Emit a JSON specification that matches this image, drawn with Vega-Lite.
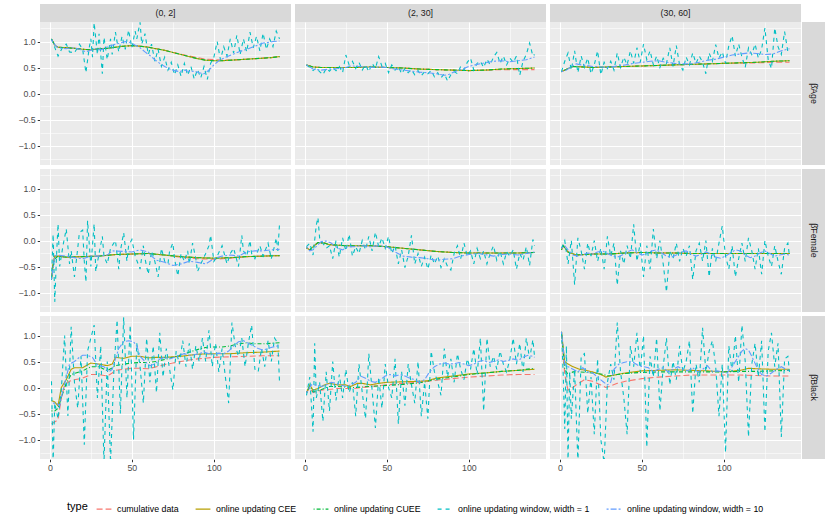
{
  "$schema": "https://vega.github.io/schema/vega-lite/v6.json",
  "padding": {"left": 5, "top": 4, "right": 5, "bottom": 2},
  "background": "#FFFFFF",
  "config": {
    "font": "Liberation Sans",
    "view": {"stroke": null},
    "axis": {
      "domain": false,
      "grid": true,
      "gridColor": "#FFFFFF",
      "tickColor": "#333333",
      "tickSize": 2.75,
      "tickWidth": 1,
      "labelColor": "#4D4D4D",
      "labelFontSize": 8.8,
      "labelPadding": 2,
      "labelOverlap": false,
      "title": null
    },
    "legend": {
      "orient": "bottom",
      "direction": "horizontal",
      "titleOrient": "left",
      "titleAnchor": "middle",
      "titleBaseline": "middle",
      "titleFontSize": 11,
      "titleFontWeight": "normal",
      "titleColor": "#000000",
      "labelFontSize": 8.8,
      "labelColor": "#000000",
      "symbolStrokeWidth": 1.1,
      "symbolSize": 220,
      "columnPadding": 14,
      "labelOffset": 5,
      "titlePadding": 8,
      "offset": 28,
      "layout": {"bottom": {"anchor": "middle"}}
    }
  },
  "spacing": 0,
  "vconcat": [
    {
      "spacing": 4,
      "hconcat": [
        {"data": {"values": [{"lab": "(0, 2]"}]}, "width": 251, "height": 18, "view": {"fill": "#D9D9D9", "stroke": null},
         "mark": {"type": "text", "fontSize": 8.8, "color": "#1A1A1A"}, "encoding": {"text": {"field": "lab"}}},
        {"data": {"values": [{"lab": "(2, 30]"}]}, "width": 251, "height": 18, "view": {"fill": "#D9D9D9", "stroke": null},
         "mark": {"type": "text", "fontSize": 8.8, "color": "#1A1A1A"}, "encoding": {"text": {"field": "lab"}}},
        {"data": {"values": [{"lab": "(30, 60]"}]}, "width": 251, "height": 18, "view": {"fill": "#D9D9D9", "stroke": null},
         "mark": {"type": "text", "fontSize": 8.8, "color": "#1A1A1A"}, "encoding": {"text": {"field": "lab"}}}
      ]
    },
    {
      "spacing": 1,
      "hconcat": [
        {
          "data": {"values": [
{"r":1,"c":1,"t":"a","x":1,"y":1.05},{"r":1,"c":1,"t":"a","x":3,"y":0.93},{"r":1,"c":1,"t":"a","x":5,"y":0.89},{"r":1,"c":1,"t":"a","x":10,"y":0.88},{"r":1,"c":1,"t":"a","x":15,"y":0.87},{"r":1,"c":1,"t":"a","x":20,"y":0.85},{"r":1,"c":1,"t":"a","x":25,"y":0.84},{"r":1,"c":1,"t":"a","x":30,"y":0.86},{"r":1,"c":1,"t":"a","x":35,"y":0.87},{"r":1,"c":1,"t":"a","x":40,"y":0.89},{"r":1,"c":1,"t":"a","x":45,"y":0.91},{"r":1,"c":1,"t":"a","x":50,"y":0.92},{"r":1,"c":1,"t":"a","x":55,"y":0.91},{"r":1,"c":1,"t":"a","x":60,"y":0.89},{"r":1,"c":1,"t":"a","x":65,"y":0.86},{"r":1,"c":1,"t":"a","x":70,"y":0.83},{"r":1,"c":1,"t":"a","x":75,"y":0.79},{"r":1,"c":1,"t":"a","x":80,"y":0.755},{"r":1,"c":1,"t":"a","x":85,"y":0.72},{"r":1,"c":1,"t":"a","x":90,"y":0.69},{"r":1,"c":1,"t":"a","x":95,"y":0.66},{"r":1,"c":1,"t":"a","x":100,"y":0.65},{"r":1,"c":1,"t":"a","x":105,"y":0.645},{"r":1,"c":1,"t":"a","x":110,"y":0.645},{"r":1,"c":1,"t":"a","x":115,"y":0.65},{"r":1,"c":1,"t":"a","x":120,"y":0.66},{"r":1,"c":1,"t":"a","x":125,"y":0.67},{"r":1,"c":1,"t":"a","x":130,"y":0.68},{"r":1,"c":1,"t":"a","x":135,"y":0.69},{"r":1,"c":1,"t":"a","x":140,"y":0.71},
{"r":1,"c":1,"t":"b","x":1,"y":1.05},{"r":1,"c":1,"t":"b","x":3,"y":0.93},{"r":1,"c":1,"t":"b","x":5,"y":0.89},{"r":1,"c":1,"t":"b","x":10,"y":0.88},{"r":1,"c":1,"t":"b","x":15,"y":0.87},{"r":1,"c":1,"t":"b","x":20,"y":0.85},{"r":1,"c":1,"t":"b","x":25,"y":0.84},{"r":1,"c":1,"t":"b","x":30,"y":0.86},{"r":1,"c":1,"t":"b","x":35,"y":0.87},{"r":1,"c":1,"t":"b","x":40,"y":0.89},{"r":1,"c":1,"t":"b","x":45,"y":0.91},{"r":1,"c":1,"t":"b","x":50,"y":0.92},{"r":1,"c":1,"t":"b","x":55,"y":0.91},{"r":1,"c":1,"t":"b","x":60,"y":0.89},{"r":1,"c":1,"t":"b","x":65,"y":0.86},{"r":1,"c":1,"t":"b","x":70,"y":0.83},{"r":1,"c":1,"t":"b","x":75,"y":0.79},{"r":1,"c":1,"t":"b","x":80,"y":0.75},{"r":1,"c":1,"t":"b","x":85,"y":0.71},{"r":1,"c":1,"t":"b","x":90,"y":0.67},{"r":1,"c":1,"t":"b","x":95,"y":0.64},{"r":1,"c":1,"t":"b","x":100,"y":0.63},{"r":1,"c":1,"t":"b","x":105,"y":0.63},{"r":1,"c":1,"t":"b","x":110,"y":0.64},{"r":1,"c":1,"t":"b","x":115,"y":0.65},{"r":1,"c":1,"t":"b","x":120,"y":0.66},{"r":1,"c":1,"t":"b","x":125,"y":0.67},{"r":1,"c":1,"t":"b","x":130,"y":0.68},{"r":1,"c":1,"t":"b","x":135,"y":0.69},{"r":1,"c":1,"t":"b","x":140,"y":0.71},
{"r":1,"c":1,"t":"c","x":1,"y":1.05},{"r":1,"c":1,"t":"c","x":3,"y":0.93},{"r":1,"c":1,"t":"c","x":5,"y":0.89},{"r":1,"c":1,"t":"c","x":10,"y":0.88},{"r":1,"c":1,"t":"c","x":15,"y":0.87},{"r":1,"c":1,"t":"c","x":20,"y":0.85},{"r":1,"c":1,"t":"c","x":25,"y":0.84},{"r":1,"c":1,"t":"c","x":30,"y":0.86},{"r":1,"c":1,"t":"c","x":35,"y":0.87},{"r":1,"c":1,"t":"c","x":40,"y":0.89},{"r":1,"c":1,"t":"c","x":45,"y":0.91},{"r":1,"c":1,"t":"c","x":50,"y":0.92},{"r":1,"c":1,"t":"c","x":55,"y":0.91},{"r":1,"c":1,"t":"c","x":60,"y":0.89},{"r":1,"c":1,"t":"c","x":65,"y":0.86},{"r":1,"c":1,"t":"c","x":70,"y":0.83},{"r":1,"c":1,"t":"c","x":75,"y":0.79},{"r":1,"c":1,"t":"c","x":80,"y":0.75},{"r":1,"c":1,"t":"c","x":85,"y":0.71},{"r":1,"c":1,"t":"c","x":90,"y":0.67},{"r":1,"c":1,"t":"c","x":95,"y":0.64},{"r":1,"c":1,"t":"c","x":100,"y":0.63},{"r":1,"c":1,"t":"c","x":105,"y":0.63},{"r":1,"c":1,"t":"c","x":110,"y":0.64},{"r":1,"c":1,"t":"c","x":115,"y":0.65},{"r":1,"c":1,"t":"c","x":120,"y":0.66},{"r":1,"c":1,"t":"c","x":125,"y":0.67},{"r":1,"c":1,"t":"c","x":130,"y":0.68},{"r":1,"c":1,"t":"c","x":135,"y":0.69},{"r":1,"c":1,"t":"c","x":140,"y":0.71},
{"r":1,"c":1,"t":"d","x":1,"y":1.05},{"r":1,"c":1,"t":"d","x":2,"y":0.97},{"r":1,"c":1,"t":"d","x":5,"y":0.72},{"r":1,"c":1,"t":"d","x":8,"y":0.9},{"r":1,"c":1,"t":"d","x":10,"y":0.95},{"r":1,"c":1,"t":"d","x":12,"y":0.8},{"r":1,"c":1,"t":"d","x":15,"y":0.78},{"r":1,"c":1,"t":"d","x":18,"y":0.95},{"r":1,"c":1,"t":"d","x":20,"y":0.85},{"r":1,"c":1,"t":"d","x":22,"y":0.4},{"r":1,"c":1,"t":"d","x":24,"y":0.88},{"r":1,"c":1,"t":"d","x":25,"y":1.05},{"r":1,"c":1,"t":"d","x":26,"y":0.7},{"r":1,"c":1,"t":"d","x":27,"y":1.36},{"r":1,"c":1,"t":"d","x":29,"y":0.75},{"r":1,"c":1,"t":"d","x":30,"y":1.15},{"r":1,"c":1,"t":"d","x":32,"y":0.38},{"r":1,"c":1,"t":"d","x":33,"y":1.08},{"r":1,"c":1,"t":"d","x":35,"y":0.65},{"r":1,"c":1,"t":"d","x":37,"y":1.05},{"r":1,"c":1,"t":"d","x":38,"y":0.75},{"r":1,"c":1,"t":"d","x":40,"y":1.18},{"r":1,"c":1,"t":"d","x":42,"y":0.8},{"r":1,"c":1,"t":"d","x":44,"y":1.1},{"r":1,"c":1,"t":"d","x":46,"y":0.85},{"r":1,"c":1,"t":"d","x":48,"y":1.22},{"r":1,"c":1,"t":"d","x":50,"y":0.88},{"r":1,"c":1,"t":"d","x":52,"y":1.2},{"r":1,"c":1,"t":"d","x":53,"y":1.05},{"r":1,"c":1,"t":"d","x":55,"y":1.37},{"r":1,"c":1,"t":"d","x":56,"y":0.95},{"r":1,"c":1,"t":"d","x":58,"y":1.15},{"r":1,"c":1,"t":"d","x":60,"y":0.75},{"r":1,"c":1,"t":"d","x":62,"y":0.95},{"r":1,"c":1,"t":"d","x":64,"y":0.62},{"r":1,"c":1,"t":"d","x":66,"y":0.85},{"r":1,"c":1,"t":"d","x":68,"y":0.52},{"r":1,"c":1,"t":"d","x":70,"y":0.7},{"r":1,"c":1,"t":"d","x":72,"y":0.45},{"r":1,"c":1,"t":"d","x":74,"y":0.6},{"r":1,"c":1,"t":"d","x":76,"y":0.36},{"r":1,"c":1,"t":"d","x":78,"y":0.55},{"r":1,"c":1,"t":"d","x":80,"y":0.33},{"r":1,"c":1,"t":"d","x":82,"y":0.58},{"r":1,"c":1,"t":"d","x":84,"y":0.35},{"r":1,"c":1,"t":"d","x":86,"y":0.52},{"r":1,"c":1,"t":"d","x":88,"y":0.28},{"r":1,"c":1,"t":"d","x":90,"y":0.46},{"r":1,"c":1,"t":"d","x":92,"y":0.3},{"r":1,"c":1,"t":"d","x":94,"y":0.52},{"r":1,"c":1,"t":"d","x":96,"y":0.27},{"r":1,"c":1,"t":"d","x":98,"y":0.58},{"r":1,"c":1,"t":"d","x":100,"y":0.7},{"r":1,"c":1,"t":"d","x":102,"y":1.0},{"r":1,"c":1,"t":"d","x":104,"y":0.65},{"r":1,"c":1,"t":"d","x":106,"y":0.9},{"r":1,"c":1,"t":"d","x":108,"y":0.72},{"r":1,"c":1,"t":"d","x":110,"y":1.05},{"r":1,"c":1,"t":"d","x":112,"y":0.78},{"r":1,"c":1,"t":"d","x":114,"y":1.12},{"r":1,"c":1,"t":"d","x":116,"y":0.75},{"r":1,"c":1,"t":"d","x":118,"y":1.05},{"r":1,"c":1,"t":"d","x":120,"y":0.8},{"r":1,"c":1,"t":"d","x":122,"y":1.18},{"r":1,"c":1,"t":"d","x":124,"y":0.88},{"r":1,"c":1,"t":"d","x":126,"y":1.1},{"r":1,"c":1,"t":"d","x":128,"y":0.82},{"r":1,"c":1,"t":"d","x":130,"y":1.16},{"r":1,"c":1,"t":"d","x":132,"y":0.85},{"r":1,"c":1,"t":"d","x":134,"y":1.05},{"r":1,"c":1,"t":"d","x":136,"y":0.9},{"r":1,"c":1,"t":"d","x":138,"y":1.2},{"r":1,"c":1,"t":"d","x":140,"y":1.05},
{"r":1,"c":1,"t":"e","x":1,"y":1.03},{"r":1,"c":1,"t":"e","x":4,"y":0.9},{"r":1,"c":1,"t":"e","x":7,"y":0.87},{"r":1,"c":1,"t":"e","x":10,"y":0.86},{"r":1,"c":1,"t":"e","x":13,"y":0.88},{"r":1,"c":1,"t":"e","x":16,"y":0.87},{"r":1,"c":1,"t":"e","x":19,"y":0.84},{"r":1,"c":1,"t":"e","x":22,"y":0.8},{"r":1,"c":1,"t":"e","x":25,"y":0.83},{"r":1,"c":1,"t":"e","x":28,"y":0.86},{"r":1,"c":1,"t":"e","x":31,"y":0.84},{"r":1,"c":1,"t":"e","x":34,"y":0.88},{"r":1,"c":1,"t":"e","x":37,"y":0.92},{"r":1,"c":1,"t":"e","x":40,"y":0.95},{"r":1,"c":1,"t":"e","x":43,"y":0.97},{"r":1,"c":1,"t":"e","x":46,"y":1.0},{"r":1,"c":1,"t":"e","x":49,"y":0.98},{"r":1,"c":1,"t":"e","x":52,"y":0.93},{"r":1,"c":1,"t":"e","x":55,"y":0.88},{"r":1,"c":1,"t":"e","x":58,"y":0.8},{"r":1,"c":1,"t":"e","x":61,"y":0.73},{"r":1,"c":1,"t":"e","x":64,"y":0.65},{"r":1,"c":1,"t":"e","x":67,"y":0.58},{"r":1,"c":1,"t":"e","x":70,"y":0.52},{"r":1,"c":1,"t":"e","x":73,"y":0.47},{"r":1,"c":1,"t":"e","x":76,"y":0.44},{"r":1,"c":1,"t":"e","x":79,"y":0.42},{"r":1,"c":1,"t":"e","x":82,"y":0.45},{"r":1,"c":1,"t":"e","x":85,"y":0.42},{"r":1,"c":1,"t":"e","x":88,"y":0.43},{"r":1,"c":1,"t":"e","x":91,"y":0.4},{"r":1,"c":1,"t":"e","x":94,"y":0.38},{"r":1,"c":1,"t":"e","x":97,"y":0.45},{"r":1,"c":1,"t":"e","x":100,"y":0.55},{"r":1,"c":1,"t":"e","x":103,"y":0.63},{"r":1,"c":1,"t":"e","x":106,"y":0.68},{"r":1,"c":1,"t":"e","x":109,"y":0.72},{"r":1,"c":1,"t":"e","x":112,"y":0.76},{"r":1,"c":1,"t":"e","x":115,"y":0.8},{"r":1,"c":1,"t":"e","x":118,"y":0.83},{"r":1,"c":1,"t":"e","x":121,"y":0.86},{"r":1,"c":1,"t":"e","x":124,"y":0.9},{"r":1,"c":1,"t":"e","x":127,"y":0.93},{"r":1,"c":1,"t":"e","x":130,"y":0.97},{"r":1,"c":1,"t":"e","x":133,"y":0.98},{"r":1,"c":1,"t":"e","x":136,"y":1.0},{"r":1,"c":1,"t":"e","x":140,"y":1.01},
{"r":1,"c":2,"t":"a","x":1,"y":0.55},{"r":1,"c":2,"t":"a","x":5,"y":0.51},{"r":1,"c":2,"t":"a","x":10,"y":0.5},{"r":1,"c":2,"t":"a","x":20,"y":0.5},{"r":1,"c":2,"t":"a","x":30,"y":0.5},{"r":1,"c":2,"t":"a","x":40,"y":0.51},{"r":1,"c":2,"t":"a","x":50,"y":0.5},{"r":1,"c":2,"t":"a","x":60,"y":0.49},{"r":1,"c":2,"t":"a","x":70,"y":0.47},{"r":1,"c":2,"t":"a","x":80,"y":0.46},{"r":1,"c":2,"t":"a","x":90,"y":0.45},{"r":1,"c":2,"t":"a","x":100,"y":0.44},{"r":1,"c":2,"t":"a","x":110,"y":0.45},{"r":1,"c":2,"t":"a","x":120,"y":0.46},{"r":1,"c":2,"t":"a","x":130,"y":0.46},{"r":1,"c":2,"t":"a","x":140,"y":0.46},
{"r":1,"c":2,"t":"b","x":1,"y":0.55},{"r":1,"c":2,"t":"b","x":5,"y":0.51},{"r":1,"c":2,"t":"b","x":10,"y":0.5},{"r":1,"c":2,"t":"b","x":20,"y":0.5},{"r":1,"c":2,"t":"b","x":30,"y":0.5},{"r":1,"c":2,"t":"b","x":40,"y":0.51},{"r":1,"c":2,"t":"b","x":50,"y":0.5},{"r":1,"c":2,"t":"b","x":60,"y":0.49},{"r":1,"c":2,"t":"b","x":70,"y":0.47},{"r":1,"c":2,"t":"b","x":80,"y":0.46},{"r":1,"c":2,"t":"b","x":90,"y":0.45},{"r":1,"c":2,"t":"b","x":100,"y":0.44},{"r":1,"c":2,"t":"b","x":110,"y":0.45},{"r":1,"c":2,"t":"b","x":120,"y":0.47},{"r":1,"c":2,"t":"b","x":130,"y":0.48},{"r":1,"c":2,"t":"b","x":140,"y":0.49},
{"r":1,"c":2,"t":"c","x":1,"y":0.55},{"r":1,"c":2,"t":"c","x":5,"y":0.51},{"r":1,"c":2,"t":"c","x":10,"y":0.5},{"r":1,"c":2,"t":"c","x":20,"y":0.5},{"r":1,"c":2,"t":"c","x":30,"y":0.5},{"r":1,"c":2,"t":"c","x":40,"y":0.51},{"r":1,"c":2,"t":"c","x":50,"y":0.5},{"r":1,"c":2,"t":"c","x":60,"y":0.49},{"r":1,"c":2,"t":"c","x":70,"y":0.47},{"r":1,"c":2,"t":"c","x":80,"y":0.46},{"r":1,"c":2,"t":"c","x":90,"y":0.45},{"r":1,"c":2,"t":"c","x":100,"y":0.44},{"r":1,"c":2,"t":"c","x":110,"y":0.45},{"r":1,"c":2,"t":"c","x":120,"y":0.47},{"r":1,"c":2,"t":"c","x":130,"y":0.48},{"r":1,"c":2,"t":"c","x":140,"y":0.49},
{"r":1,"c":2,"t":"d","x":1,"y":0.55},{"r":1,"c":2,"t":"d","x":3,"y":0.5},{"r":1,"c":2,"t":"d","x":5,"y":0.44},{"r":1,"c":2,"t":"d","x":7,"y":0.49},{"r":1,"c":2,"t":"d","x":9,"y":0.42},{"r":1,"c":2,"t":"d","x":11,"y":0.36},{"r":1,"c":2,"t":"d","x":13,"y":0.48},{"r":1,"c":2,"t":"d","x":15,"y":0.43},{"r":1,"c":2,"t":"d","x":17,"y":0.5},{"r":1,"c":2,"t":"d","x":19,"y":0.44},{"r":1,"c":2,"t":"d","x":21,"y":0.52},{"r":1,"c":2,"t":"d","x":23,"y":0.4},{"r":1,"c":2,"t":"d","x":25,"y":0.74},{"r":1,"c":2,"t":"d","x":27,"y":0.55},{"r":1,"c":2,"t":"d","x":29,"y":0.62},{"r":1,"c":2,"t":"d","x":31,"y":0.48},{"r":1,"c":2,"t":"d","x":33,"y":0.6},{"r":1,"c":2,"t":"d","x":35,"y":0.45},{"r":1,"c":2,"t":"d","x":37,"y":0.55},{"r":1,"c":2,"t":"d","x":39,"y":0.42},{"r":1,"c":2,"t":"d","x":41,"y":0.58},{"r":1,"c":2,"t":"d","x":43,"y":0.48},{"r":1,"c":2,"t":"d","x":45,"y":0.71},{"r":1,"c":2,"t":"d","x":47,"y":0.52},{"r":1,"c":2,"t":"d","x":49,"y":0.58},{"r":1,"c":2,"t":"d","x":51,"y":0.4},{"r":1,"c":2,"t":"d","x":53,"y":0.55},{"r":1,"c":2,"t":"d","x":55,"y":0.45},{"r":1,"c":2,"t":"d","x":57,"y":0.52},{"r":1,"c":2,"t":"d","x":59,"y":0.38},{"r":1,"c":2,"t":"d","x":61,"y":0.48},{"r":1,"c":2,"t":"d","x":63,"y":0.4},{"r":1,"c":2,"t":"d","x":65,"y":0.46},{"r":1,"c":2,"t":"d","x":67,"y":0.36},{"r":1,"c":2,"t":"d","x":69,"y":0.44},{"r":1,"c":2,"t":"d","x":71,"y":0.34},{"r":1,"c":2,"t":"d","x":73,"y":0.42},{"r":1,"c":2,"t":"d","x":75,"y":0.38},{"r":1,"c":2,"t":"d","x":77,"y":0.44},{"r":1,"c":2,"t":"d","x":79,"y":0.32},{"r":1,"c":2,"t":"d","x":81,"y":0.4},{"r":1,"c":2,"t":"d","x":83,"y":0.3},{"r":1,"c":2,"t":"d","x":85,"y":0.38},{"r":1,"c":2,"t":"d","x":87,"y":0.24},{"r":1,"c":2,"t":"d","x":89,"y":0.36},{"r":1,"c":2,"t":"d","x":91,"y":0.42},{"r":1,"c":2,"t":"d","x":93,"y":0.38},{"r":1,"c":2,"t":"d","x":95,"y":0.52},{"r":1,"c":2,"t":"d","x":97,"y":0.45},{"r":1,"c":2,"t":"d","x":99,"y":0.6},{"r":1,"c":2,"t":"d","x":101,"y":0.68},{"r":1,"c":2,"t":"d","x":103,"y":0.45},{"r":1,"c":2,"t":"d","x":105,"y":0.58},{"r":1,"c":2,"t":"d","x":107,"y":0.62},{"r":1,"c":2,"t":"d","x":109,"y":0.5},{"r":1,"c":2,"t":"d","x":111,"y":0.66},{"r":1,"c":2,"t":"d","x":113,"y":0.55},{"r":1,"c":2,"t":"d","x":115,"y":0.7},{"r":1,"c":2,"t":"d","x":117,"y":0.79},{"r":1,"c":2,"t":"d","x":119,"y":0.58},{"r":1,"c":2,"t":"d","x":121,"y":0.72},{"r":1,"c":2,"t":"d","x":123,"y":0.55},{"r":1,"c":2,"t":"d","x":125,"y":0.68},{"r":1,"c":2,"t":"d","x":127,"y":0.6},{"r":1,"c":2,"t":"d","x":129,"y":0.72},{"r":1,"c":2,"t":"d","x":131,"y":0.35},{"r":1,"c":2,"t":"d","x":133,"y":0.62},{"r":1,"c":2,"t":"d","x":135,"y":0.75},{"r":1,"c":2,"t":"d","x":137,"y":0.97},{"r":1,"c":2,"t":"d","x":139,"y":0.72},{"r":1,"c":2,"t":"d","x":140,"y":0.75},
{"r":1,"c":2,"t":"e","x":1,"y":0.55},{"r":1,"c":2,"t":"e","x":5,"y":0.47},{"r":1,"c":2,"t":"e","x":10,"y":0.45},{"r":1,"c":2,"t":"e","x":15,"y":0.47},{"r":1,"c":2,"t":"e","x":20,"y":0.48},{"r":1,"c":2,"t":"e","x":25,"y":0.5},{"r":1,"c":2,"t":"e","x":28,"y":0.53},{"r":1,"c":2,"t":"e","x":33,"y":0.52},{"r":1,"c":2,"t":"e","x":40,"y":0.5},{"r":1,"c":2,"t":"e","x":45,"y":0.51},{"r":1,"c":2,"t":"e","x":50,"y":0.5},{"r":1,"c":2,"t":"e","x":55,"y":0.47},{"r":1,"c":2,"t":"e","x":60,"y":0.45},{"r":1,"c":2,"t":"e","x":65,"y":0.43},{"r":1,"c":2,"t":"e","x":70,"y":0.41},{"r":1,"c":2,"t":"e","x":75,"y":0.4},{"r":1,"c":2,"t":"e","x":80,"y":0.38},{"r":1,"c":2,"t":"e","x":85,"y":0.35},{"r":1,"c":2,"t":"e","x":88,"y":0.37},{"r":1,"c":2,"t":"e","x":92,"y":0.43},{"r":1,"c":2,"t":"e","x":97,"y":0.48},{"r":1,"c":2,"t":"e","x":100,"y":0.52},{"r":1,"c":2,"t":"e","x":105,"y":0.56},{"r":1,"c":2,"t":"e","x":110,"y":0.59},{"r":1,"c":2,"t":"e","x":115,"y":0.62},{"r":1,"c":2,"t":"e","x":120,"y":0.63},{"r":1,"c":2,"t":"e","x":125,"y":0.61},{"r":1,"c":2,"t":"e","x":130,"y":0.63},{"r":1,"c":2,"t":"e","x":135,"y":0.65},{"r":1,"c":2,"t":"e","x":140,"y":0.7},
{"r":1,"c":3,"t":"a","x":1,"y":0.42},{"r":1,"c":3,"t":"a","x":5,"y":0.48},{"r":1,"c":3,"t":"a","x":8,"y":0.52},{"r":1,"c":3,"t":"a","x":15,"y":0.51},{"r":1,"c":3,"t":"a","x":20,"y":0.5},{"r":1,"c":3,"t":"a","x":30,"y":0.51},{"r":1,"c":3,"t":"a","x":40,"y":0.52},{"r":1,"c":3,"t":"a","x":50,"y":0.53},{"r":1,"c":3,"t":"a","x":60,"y":0.54},{"r":1,"c":3,"t":"a","x":70,"y":0.55},{"r":1,"c":3,"t":"a","x":80,"y":0.56},{"r":1,"c":3,"t":"a","x":90,"y":0.57},{"r":1,"c":3,"t":"a","x":100,"y":0.58},{"r":1,"c":3,"t":"a","x":110,"y":0.585},{"r":1,"c":3,"t":"a","x":120,"y":0.59},{"r":1,"c":3,"t":"a","x":130,"y":0.6},{"r":1,"c":3,"t":"a","x":140,"y":0.6},
{"r":1,"c":3,"t":"b","x":1,"y":0.42},{"r":1,"c":3,"t":"b","x":5,"y":0.48},{"r":1,"c":3,"t":"b","x":8,"y":0.52},{"r":1,"c":3,"t":"b","x":15,"y":0.51},{"r":1,"c":3,"t":"b","x":20,"y":0.5},{"r":1,"c":3,"t":"b","x":30,"y":0.51},{"r":1,"c":3,"t":"b","x":40,"y":0.52},{"r":1,"c":3,"t":"b","x":50,"y":0.53},{"r":1,"c":3,"t":"b","x":60,"y":0.54},{"r":1,"c":3,"t":"b","x":70,"y":0.55},{"r":1,"c":3,"t":"b","x":80,"y":0.56},{"r":1,"c":3,"t":"b","x":90,"y":0.57},{"r":1,"c":3,"t":"b","x":100,"y":0.58},{"r":1,"c":3,"t":"b","x":110,"y":0.59},{"r":1,"c":3,"t":"b","x":120,"y":0.6},{"r":1,"c":3,"t":"b","x":130,"y":0.62},{"r":1,"c":3,"t":"b","x":140,"y":0.63},
{"r":1,"c":3,"t":"c","x":1,"y":0.42},{"r":1,"c":3,"t":"c","x":5,"y":0.48},{"r":1,"c":3,"t":"c","x":8,"y":0.52},{"r":1,"c":3,"t":"c","x":15,"y":0.51},{"r":1,"c":3,"t":"c","x":20,"y":0.5},{"r":1,"c":3,"t":"c","x":30,"y":0.51},{"r":1,"c":3,"t":"c","x":40,"y":0.52},{"r":1,"c":3,"t":"c","x":50,"y":0.53},{"r":1,"c":3,"t":"c","x":60,"y":0.54},{"r":1,"c":3,"t":"c","x":70,"y":0.55},{"r":1,"c":3,"t":"c","x":80,"y":0.56},{"r":1,"c":3,"t":"c","x":90,"y":0.57},{"r":1,"c":3,"t":"c","x":100,"y":0.58},{"r":1,"c":3,"t":"c","x":110,"y":0.59},{"r":1,"c":3,"t":"c","x":120,"y":0.6},{"r":1,"c":3,"t":"c","x":130,"y":0.62},{"r":1,"c":3,"t":"c","x":140,"y":0.63},
{"r":1,"c":3,"t":"d","x":1,"y":0.42},{"r":1,"c":3,"t":"d","x":3,"y":0.62},{"r":1,"c":3,"t":"d","x":5,"y":0.78},{"r":1,"c":3,"t":"d","x":7,"y":0.45},{"r":1,"c":3,"t":"d","x":9,"y":0.82},{"r":1,"c":3,"t":"d","x":11,"y":0.4},{"r":1,"c":3,"t":"d","x":13,"y":0.72},{"r":1,"c":3,"t":"d","x":15,"y":0.5},{"r":1,"c":3,"t":"d","x":17,"y":0.68},{"r":1,"c":3,"t":"d","x":19,"y":0.38},{"r":1,"c":3,"t":"d","x":21,"y":0.55},{"r":1,"c":3,"t":"d","x":23,"y":0.82},{"r":1,"c":3,"t":"d","x":25,"y":0.36},{"r":1,"c":3,"t":"d","x":27,"y":0.6},{"r":1,"c":3,"t":"d","x":29,"y":0.48},{"r":1,"c":3,"t":"d","x":31,"y":0.62},{"r":1,"c":3,"t":"d","x":33,"y":0.45},{"r":1,"c":3,"t":"d","x":35,"y":0.78},{"r":1,"c":3,"t":"d","x":37,"y":0.5},{"r":1,"c":3,"t":"d","x":39,"y":0.7},{"r":1,"c":3,"t":"d","x":41,"y":0.55},{"r":1,"c":3,"t":"d","x":43,"y":0.82},{"r":1,"c":3,"t":"d","x":45,"y":0.58},{"r":1,"c":3,"t":"d","x":47,"y":0.88},{"r":1,"c":3,"t":"d","x":49,"y":0.6},{"r":1,"c":3,"t":"d","x":51,"y":0.95},{"r":1,"c":3,"t":"d","x":53,"y":0.65},{"r":1,"c":3,"t":"d","x":55,"y":0.82},{"r":1,"c":3,"t":"d","x":57,"y":0.55},{"r":1,"c":3,"t":"d","x":59,"y":0.72},{"r":1,"c":3,"t":"d","x":61,"y":0.5},{"r":1,"c":3,"t":"d","x":63,"y":0.68},{"r":1,"c":3,"t":"d","x":65,"y":0.58},{"r":1,"c":3,"t":"d","x":67,"y":0.88},{"r":1,"c":3,"t":"d","x":69,"y":0.52},{"r":1,"c":3,"t":"d","x":71,"y":0.92},{"r":1,"c":3,"t":"d","x":73,"y":0.55},{"r":1,"c":3,"t":"d","x":75,"y":0.45},{"r":1,"c":3,"t":"d","x":77,"y":0.7},{"r":1,"c":3,"t":"d","x":79,"y":0.55},{"r":1,"c":3,"t":"d","x":81,"y":0.78},{"r":1,"c":3,"t":"d","x":83,"y":0.58},{"r":1,"c":3,"t":"d","x":85,"y":0.72},{"r":1,"c":3,"t":"d","x":87,"y":0.6},{"r":1,"c":3,"t":"d","x":89,"y":0.38},{"r":1,"c":3,"t":"d","x":91,"y":0.78},{"r":1,"c":3,"t":"d","x":93,"y":0.62},{"r":1,"c":3,"t":"d","x":95,"y":0.94},{"r":1,"c":3,"t":"d","x":97,"y":0.68},{"r":1,"c":3,"t":"d","x":99,"y":0.8},{"r":1,"c":3,"t":"d","x":101,"y":0.58},{"r":1,"c":3,"t":"d","x":103,"y":0.92},{"r":1,"c":3,"t":"d","x":105,"y":1.11},{"r":1,"c":3,"t":"d","x":107,"y":0.72},{"r":1,"c":3,"t":"d","x":109,"y":0.95},{"r":1,"c":3,"t":"d","x":111,"y":0.7},{"r":1,"c":3,"t":"d","x":113,"y":0.5},{"r":1,"c":3,"t":"d","x":115,"y":0.88},{"r":1,"c":3,"t":"d","x":117,"y":0.75},{"r":1,"c":3,"t":"d","x":119,"y":0.95},{"r":1,"c":3,"t":"d","x":121,"y":0.68},{"r":1,"c":3,"t":"d","x":123,"y":0.85},{"r":1,"c":3,"t":"d","x":125,"y":1.26},{"r":1,"c":3,"t":"d","x":127,"y":0.65},{"r":1,"c":3,"t":"d","x":129,"y":0.48},{"r":1,"c":3,"t":"d","x":131,"y":1.26},{"r":1,"c":3,"t":"d","x":133,"y":0.9},{"r":1,"c":3,"t":"d","x":135,"y":0.75},{"r":1,"c":3,"t":"d","x":137,"y":1.19},{"r":1,"c":3,"t":"d","x":139,"y":0.8},{"r":1,"c":3,"t":"d","x":140,"y":0.82},
{"r":1,"c":3,"t":"e","x":1,"y":0.42},{"r":1,"c":3,"t":"e","x":4,"y":0.45},{"r":1,"c":3,"t":"e","x":7,"y":0.52},{"r":1,"c":3,"t":"e","x":10,"y":0.57},{"r":1,"c":3,"t":"e","x":13,"y":0.55},{"r":1,"c":3,"t":"e","x":16,"y":0.54},{"r":1,"c":3,"t":"e","x":20,"y":0.52},{"r":1,"c":3,"t":"e","x":25,"y":0.51},{"r":1,"c":3,"t":"e","x":30,"y":0.5},{"r":1,"c":3,"t":"e","x":35,"y":0.53},{"r":1,"c":3,"t":"e","x":40,"y":0.55},{"r":1,"c":3,"t":"e","x":45,"y":0.58},{"r":1,"c":3,"t":"e","x":50,"y":0.6},{"r":1,"c":3,"t":"e","x":55,"y":0.62},{"r":1,"c":3,"t":"e","x":60,"y":0.63},{"r":1,"c":3,"t":"e","x":65,"y":0.6},{"r":1,"c":3,"t":"e","x":70,"y":0.58},{"r":1,"c":3,"t":"e","x":75,"y":0.57},{"r":1,"c":3,"t":"e","x":80,"y":0.57},{"r":1,"c":3,"t":"e","x":85,"y":0.6},{"r":1,"c":3,"t":"e","x":90,"y":0.64},{"r":1,"c":3,"t":"e","x":95,"y":0.66},{"r":1,"c":3,"t":"e","x":100,"y":0.7},{"r":1,"c":3,"t":"e","x":105,"y":0.74},{"r":1,"c":3,"t":"e","x":110,"y":0.76},{"r":1,"c":3,"t":"e","x":115,"y":0.78},{"r":1,"c":3,"t":"e","x":120,"y":0.77},{"r":1,"c":3,"t":"e","x":125,"y":0.75},{"r":1,"c":3,"t":"e","x":130,"y":0.76},{"r":1,"c":3,"t":"e","x":135,"y":0.82},{"r":1,"c":3,"t":"e","x":140,"y":0.86},
{"r":2,"c":1,"t":"a","x":1,"y":-0.75},{"r":2,"c":1,"t":"a","x":2,"y":-0.45},{"r":2,"c":1,"t":"a","x":3,"y":-0.3},{"r":2,"c":1,"t":"a","x":5,"y":-0.3},{"r":2,"c":1,"t":"a","x":10,"y":-0.32},{"r":2,"c":1,"t":"a","x":20,"y":-0.31},{"r":2,"c":1,"t":"a","x":30,"y":-0.3},{"r":2,"c":1,"t":"a","x":40,"y":-0.27},{"r":2,"c":1,"t":"a","x":50,"y":-0.26},{"r":2,"c":1,"t":"a","x":60,"y":-0.25},{"r":2,"c":1,"t":"a","x":70,"y":-0.28},{"r":2,"c":1,"t":"a","x":80,"y":-0.32},{"r":2,"c":1,"t":"a","x":90,"y":-0.35},{"r":2,"c":1,"t":"a","x":100,"y":-0.36},{"r":2,"c":1,"t":"a","x":110,"y":-0.34},{"r":2,"c":1,"t":"a","x":120,"y":-0.31},{"r":2,"c":1,"t":"a","x":130,"y":-0.3},{"r":2,"c":1,"t":"a","x":140,"y":-0.29},
{"r":2,"c":1,"t":"b","x":1,"y":-0.75},{"r":2,"c":1,"t":"b","x":2,"y":-0.45},{"r":2,"c":1,"t":"b","x":3,"y":-0.3},{"r":2,"c":1,"t":"b","x":5,"y":-0.3},{"r":2,"c":1,"t":"b","x":10,"y":-0.32},{"r":2,"c":1,"t":"b","x":20,"y":-0.31},{"r":2,"c":1,"t":"b","x":30,"y":-0.3},{"r":2,"c":1,"t":"b","x":40,"y":-0.27},{"r":2,"c":1,"t":"b","x":50,"y":-0.26},{"r":2,"c":1,"t":"b","x":60,"y":-0.25},{"r":2,"c":1,"t":"b","x":70,"y":-0.28},{"r":2,"c":1,"t":"b","x":80,"y":-0.31},{"r":2,"c":1,"t":"b","x":90,"y":-0.33},{"r":2,"c":1,"t":"b","x":100,"y":-0.34},{"r":2,"c":1,"t":"b","x":110,"y":-0.33},{"r":2,"c":1,"t":"b","x":120,"y":-0.31},{"r":2,"c":1,"t":"b","x":130,"y":-0.3},{"r":2,"c":1,"t":"b","x":140,"y":-0.29},
{"r":2,"c":1,"t":"c","x":1,"y":-0.75},{"r":2,"c":1,"t":"c","x":2,"y":-0.48},{"r":2,"c":1,"t":"c","x":3,"y":-0.35},{"r":2,"c":1,"t":"c","x":5,"y":-0.3},{"r":2,"c":1,"t":"c","x":10,"y":-0.32},{"r":2,"c":1,"t":"c","x":20,"y":-0.31},{"r":2,"c":1,"t":"c","x":30,"y":-0.3},{"r":2,"c":1,"t":"c","x":40,"y":-0.27},{"r":2,"c":1,"t":"c","x":50,"y":-0.26},{"r":2,"c":1,"t":"c","x":60,"y":-0.25},{"r":2,"c":1,"t":"c","x":70,"y":-0.28},{"r":2,"c":1,"t":"c","x":80,"y":-0.31},{"r":2,"c":1,"t":"c","x":90,"y":-0.33},{"r":2,"c":1,"t":"c","x":100,"y":-0.34},{"r":2,"c":1,"t":"c","x":110,"y":-0.33},{"r":2,"c":1,"t":"c","x":120,"y":-0.31},{"r":2,"c":1,"t":"c","x":130,"y":-0.3},{"r":2,"c":1,"t":"c","x":140,"y":-0.29},
{"r":2,"c":1,"t":"d","x":1,"y":-0.75},{"r":2,"c":1,"t":"d","x":2,"y":0.12},{"r":2,"c":1,"t":"d","x":3,"y":-1.18},{"r":2,"c":1,"t":"d","x":4,"y":-0.35},{"r":2,"c":1,"t":"d","x":5,"y":0.32},{"r":2,"c":1,"t":"d","x":6,"y":-0.5},{"r":2,"c":1,"t":"d","x":8,"y":-0.1},{"r":2,"c":1,"t":"d","x":10,"y":0.22},{"r":2,"c":1,"t":"d","x":12,"y":-0.45},{"r":2,"c":1,"t":"d","x":13,"y":-0.2},{"r":2,"c":1,"t":"d","x":15,"y":-0.7},{"r":2,"c":1,"t":"d","x":17,"y":-0.15},{"r":2,"c":1,"t":"d","x":18,"y":0.15},{"r":2,"c":1,"t":"d","x":20,"y":0.2},{"r":2,"c":1,"t":"d","x":21,"y":-0.4},{"r":2,"c":1,"t":"d","x":22,"y":-0.8},{"r":2,"c":1,"t":"d","x":23,"y":0.38},{"r":2,"c":1,"t":"d","x":25,"y":-0.5},{"r":2,"c":1,"t":"d","x":27,"y":0.32},{"r":2,"c":1,"t":"d","x":28,"y":-0.6},{"r":2,"c":1,"t":"d","x":30,"y":-0.25},{"r":2,"c":1,"t":"d","x":32,"y":0.08},{"r":2,"c":1,"t":"d","x":33,"y":-0.3},{"r":2,"c":1,"t":"d","x":35,"y":-0.45},{"r":2,"c":1,"t":"d","x":37,"y":-0.15},{"r":2,"c":1,"t":"d","x":40,"y":0.0},{"r":2,"c":1,"t":"d","x":42,"y":-0.55},{"r":2,"c":1,"t":"d","x":43,"y":-0.2},{"r":2,"c":1,"t":"d","x":45,"y":0.15},{"r":2,"c":1,"t":"d","x":47,"y":-0.4},{"r":2,"c":1,"t":"d","x":48,"y":-0.1},{"r":2,"c":1,"t":"d","x":50,"y":0.02},{"r":2,"c":1,"t":"d","x":52,"y":-0.3},{"r":2,"c":1,"t":"d","x":55,"y":-0.55},{"r":2,"c":1,"t":"d","x":57,"y":-0.1},{"r":2,"c":1,"t":"d","x":58,"y":-0.35},{"r":2,"c":1,"t":"d","x":60,"y":-0.65},{"r":2,"c":1,"t":"d","x":62,"y":-0.2},{"r":2,"c":1,"t":"d","x":64,"y":-0.4},{"r":2,"c":1,"t":"d","x":66,"y":-0.7},{"r":2,"c":1,"t":"d","x":68,"y":-0.15},{"r":2,"c":1,"t":"d","x":70,"y":-0.4},{"r":2,"c":1,"t":"d","x":72,"y":-0.45},{"r":2,"c":1,"t":"d","x":73,"y":-0.2},{"r":2,"c":1,"t":"d","x":75,"y":-0.05},{"r":2,"c":1,"t":"d","x":76,"y":-0.35},{"r":2,"c":1,"t":"d","x":78,"y":-0.68},{"r":2,"c":1,"t":"d","x":80,"y":-0.25},{"r":2,"c":1,"t":"d","x":82,"y":-0.4},{"r":2,"c":1,"t":"d","x":84,"y":-0.2},{"r":2,"c":1,"t":"d","x":85,"y":-0.45},{"r":2,"c":1,"t":"d","x":87,"y":-0.05},{"r":2,"c":1,"t":"d","x":89,"y":-0.35},{"r":2,"c":1,"t":"d","x":90,"y":-0.6},{"r":2,"c":1,"t":"d","x":92,"y":-0.45},{"r":2,"c":1,"t":"d","x":95,"y":-0.25},{"r":2,"c":1,"t":"d","x":97,"y":-0.1},{"r":2,"c":1,"t":"d","x":98,"y":0.1},{"r":2,"c":1,"t":"d","x":100,"y":-0.4},{"r":2,"c":1,"t":"d","x":102,"y":-0.3},{"r":2,"c":1,"t":"d","x":105,"y":-0.1},{"r":2,"c":1,"t":"d","x":108,"y":-0.45},{"r":2,"c":1,"t":"d","x":110,"y":-0.25},{"r":2,"c":1,"t":"d","x":112,"y":-0.15},{"r":2,"c":1,"t":"d","x":115,"y":-0.5},{"r":2,"c":1,"t":"d","x":117,"y":0.1},{"r":2,"c":1,"t":"d","x":118,"y":-0.2},{"r":2,"c":1,"t":"d","x":120,"y":-0.3},{"r":2,"c":1,"t":"d","x":122,"y":0.0},{"r":2,"c":1,"t":"d","x":123,"y":-0.25},{"r":2,"c":1,"t":"d","x":125,"y":-0.35},{"r":2,"c":1,"t":"d","x":128,"y":-0.1},{"r":2,"c":1,"t":"d","x":130,"y":-0.3},{"r":2,"c":1,"t":"d","x":133,"y":-0.05},{"r":2,"c":1,"t":"d","x":135,"y":-0.35},{"r":2,"c":1,"t":"d","x":137,"y":-0.1},{"r":2,"c":1,"t":"d","x":138,"y":0.05},{"r":2,"c":1,"t":"d","x":139,"y":-0.2},{"r":2,"c":1,"t":"d","x":140,"y":0.32},
{"r":2,"c":1,"t":"e","x":1,"y":-0.75},{"r":2,"c":1,"t":"e","x":3,"y":-0.3},{"r":2,"c":1,"t":"e","x":5,"y":-0.28},{"r":2,"c":1,"t":"e","x":10,"y":-0.3},{"r":2,"c":1,"t":"e","x":15,"y":-0.33},{"r":2,"c":1,"t":"e","x":20,"y":-0.35},{"r":2,"c":1,"t":"e","x":25,"y":-0.3},{"r":2,"c":1,"t":"e","x":30,"y":-0.3},{"r":2,"c":1,"t":"e","x":35,"y":-0.28},{"r":2,"c":1,"t":"e","x":38,"y":-0.2},{"r":2,"c":1,"t":"e","x":45,"y":-0.21},{"r":2,"c":1,"t":"e","x":50,"y":-0.22},{"r":2,"c":1,"t":"e","x":55,"y":-0.18},{"r":2,"c":1,"t":"e","x":60,"y":-0.22},{"r":2,"c":1,"t":"e","x":62,"y":-0.3},{"r":2,"c":1,"t":"e","x":65,"y":-0.38},{"r":2,"c":1,"t":"e","x":70,"y":-0.42},{"r":2,"c":1,"t":"e","x":75,"y":-0.48},{"r":2,"c":1,"t":"e","x":80,"y":-0.45},{"r":2,"c":1,"t":"e","x":85,"y":-0.4},{"r":2,"c":1,"t":"e","x":90,"y":-0.42},{"r":2,"c":1,"t":"e","x":95,"y":-0.45},{"r":2,"c":1,"t":"e","x":100,"y":-0.35},{"r":2,"c":1,"t":"e","x":105,"y":-0.3},{"r":2,"c":1,"t":"e","x":110,"y":-0.28},{"r":2,"c":1,"t":"e","x":115,"y":-0.3},{"r":2,"c":1,"t":"e","x":120,"y":-0.22},{"r":2,"c":1,"t":"e","x":125,"y":-0.2},{"r":2,"c":1,"t":"e","x":130,"y":-0.2},{"r":2,"c":1,"t":"e","x":135,"y":-0.18},{"r":2,"c":1,"t":"e","x":140,"y":-0.17},
{"r":2,"c":2,"t":"a","x":1,"y":-0.14},{"r":2,"c":2,"t":"a","x":3,"y":-0.18},{"r":2,"c":2,"t":"a","x":5,"y":-0.12},{"r":2,"c":2,"t":"a","x":8,"y":-0.04},{"r":2,"c":2,"t":"a","x":12,"y":-0.05},{"r":2,"c":2,"t":"a","x":15,"y":-0.08},{"r":2,"c":2,"t":"a","x":25,"y":-0.1},{"r":2,"c":2,"t":"a","x":40,"y":-0.1},{"r":2,"c":2,"t":"a","x":50,"y":-0.12},{"r":2,"c":2,"t":"a","x":60,"y":-0.15},{"r":2,"c":2,"t":"a","x":70,"y":-0.18},{"r":2,"c":2,"t":"a","x":80,"y":-0.21},{"r":2,"c":2,"t":"a","x":90,"y":-0.23},{"r":2,"c":2,"t":"a","x":100,"y":-0.24},{"r":2,"c":2,"t":"a","x":110,"y":-0.24},{"r":2,"c":2,"t":"a","x":120,"y":-0.24},{"r":2,"c":2,"t":"a","x":130,"y":-0.24},{"r":2,"c":2,"t":"a","x":140,"y":-0.23},
{"r":2,"c":2,"t":"b","x":1,"y":-0.14},{"r":2,"c":2,"t":"b","x":3,"y":-0.18},{"r":2,"c":2,"t":"b","x":5,"y":-0.12},{"r":2,"c":2,"t":"b","x":8,"y":-0.04},{"r":2,"c":2,"t":"b","x":12,"y":-0.05},{"r":2,"c":2,"t":"b","x":15,"y":-0.08},{"r":2,"c":2,"t":"b","x":25,"y":-0.1},{"r":2,"c":2,"t":"b","x":40,"y":-0.1},{"r":2,"c":2,"t":"b","x":50,"y":-0.12},{"r":2,"c":2,"t":"b","x":60,"y":-0.15},{"r":2,"c":2,"t":"b","x":70,"y":-0.18},{"r":2,"c":2,"t":"b","x":80,"y":-0.21},{"r":2,"c":2,"t":"b","x":90,"y":-0.23},{"r":2,"c":2,"t":"b","x":100,"y":-0.24},{"r":2,"c":2,"t":"b","x":110,"y":-0.24},{"r":2,"c":2,"t":"b","x":120,"y":-0.24},{"r":2,"c":2,"t":"b","x":130,"y":-0.24},{"r":2,"c":2,"t":"b","x":140,"y":-0.23},
{"r":2,"c":2,"t":"c","x":1,"y":-0.14},{"r":2,"c":2,"t":"c","x":3,"y":-0.18},{"r":2,"c":2,"t":"c","x":5,"y":-0.12},{"r":2,"c":2,"t":"c","x":8,"y":-0.04},{"r":2,"c":2,"t":"c","x":12,"y":-0.05},{"r":2,"c":2,"t":"c","x":15,"y":-0.08},{"r":2,"c":2,"t":"c","x":25,"y":-0.1},{"r":2,"c":2,"t":"c","x":40,"y":-0.1},{"r":2,"c":2,"t":"c","x":50,"y":-0.12},{"r":2,"c":2,"t":"c","x":60,"y":-0.15},{"r":2,"c":2,"t":"c","x":70,"y":-0.18},{"r":2,"c":2,"t":"c","x":80,"y":-0.21},{"r":2,"c":2,"t":"c","x":90,"y":-0.23},{"r":2,"c":2,"t":"c","x":100,"y":-0.24},{"r":2,"c":2,"t":"c","x":110,"y":-0.24},{"r":2,"c":2,"t":"c","x":120,"y":-0.24},{"r":2,"c":2,"t":"c","x":130,"y":-0.24},{"r":2,"c":2,"t":"c","x":140,"y":-0.23},
{"r":2,"c":2,"t":"d","x":1,"y":-0.12},{"r":2,"c":2,"t":"d","x":3,"y":-0.05},{"r":2,"c":2,"t":"d","x":5,"y":-0.28},{"r":2,"c":2,"t":"d","x":7,"y":0.3},{"r":2,"c":2,"t":"d","x":8,"y":0.44},{"r":2,"c":2,"t":"d","x":9,"y":0.05},{"r":2,"c":2,"t":"d","x":11,"y":-0.05},{"r":2,"c":2,"t":"d","x":13,"y":-0.15},{"r":2,"c":2,"t":"d","x":15,"y":-0.1},{"r":2,"c":2,"t":"d","x":17,"y":-0.35},{"r":2,"c":2,"t":"d","x":19,"y":0.0},{"r":2,"c":2,"t":"d","x":21,"y":-0.32},{"r":2,"c":2,"t":"d","x":23,"y":0.05},{"r":2,"c":2,"t":"d","x":25,"y":-0.2},{"r":2,"c":2,"t":"d","x":27,"y":0.12},{"r":2,"c":2,"t":"d","x":29,"y":-0.3},{"r":2,"c":2,"t":"d","x":31,"y":-0.12},{"r":2,"c":2,"t":"d","x":33,"y":-0.25},{"r":2,"c":2,"t":"d","x":35,"y":0.0},{"r":2,"c":2,"t":"d","x":37,"y":-0.18},{"r":2,"c":2,"t":"d","x":39,"y":0.08},{"r":2,"c":2,"t":"d","x":41,"y":-0.2},{"r":2,"c":2,"t":"d","x":43,"y":0.16},{"r":2,"c":2,"t":"d","x":45,"y":-0.12},{"r":2,"c":2,"t":"d","x":47,"y":0.05},{"r":2,"c":2,"t":"d","x":49,"y":-0.15},{"r":2,"c":2,"t":"d","x":51,"y":0.08},{"r":2,"c":2,"t":"d","x":53,"y":-0.25},{"r":2,"c":2,"t":"d","x":55,"y":-0.1},{"r":2,"c":2,"t":"d","x":57,"y":-0.45},{"r":2,"c":2,"t":"d","x":59,"y":-0.18},{"r":2,"c":2,"t":"d","x":61,"y":-0.52},{"r":2,"c":2,"t":"d","x":63,"y":-0.3},{"r":2,"c":2,"t":"d","x":65,"y":0.1},{"r":2,"c":2,"t":"d","x":67,"y":-0.45},{"r":2,"c":2,"t":"d","x":69,"y":-0.25},{"r":2,"c":2,"t":"d","x":71,"y":-0.5},{"r":2,"c":2,"t":"d","x":73,"y":-0.32},{"r":2,"c":2,"t":"d","x":75,"y":-0.55},{"r":2,"c":2,"t":"d","x":77,"y":-0.28},{"r":2,"c":2,"t":"d","x":79,"y":-0.45},{"r":2,"c":2,"t":"d","x":81,"y":-0.3},{"r":2,"c":2,"t":"d","x":83,"y":-0.52},{"r":2,"c":2,"t":"d","x":85,"y":-0.35},{"r":2,"c":2,"t":"d","x":87,"y":-0.5},{"r":2,"c":2,"t":"d","x":89,"y":-0.57},{"r":2,"c":2,"t":"d","x":91,"y":-0.25},{"r":2,"c":2,"t":"d","x":93,"y":-0.1},{"r":2,"c":2,"t":"d","x":95,"y":-0.35},{"r":2,"c":2,"t":"d","x":97,"y":-0.05},{"r":2,"c":2,"t":"d","x":99,"y":-0.3},{"r":2,"c":2,"t":"d","x":101,"y":-0.2},{"r":2,"c":2,"t":"d","x":103,"y":-0.45},{"r":2,"c":2,"t":"d","x":105,"y":-0.15},{"r":2,"c":2,"t":"d","x":107,"y":-0.35},{"r":2,"c":2,"t":"d","x":109,"y":-0.2},{"r":2,"c":2,"t":"d","x":111,"y":-0.45},{"r":2,"c":2,"t":"d","x":113,"y":-0.25},{"r":2,"c":2,"t":"d","x":115,"y":-0.1},{"r":2,"c":2,"t":"d","x":117,"y":-0.38},{"r":2,"c":2,"t":"d","x":119,"y":-0.2},{"r":2,"c":2,"t":"d","x":121,"y":-0.45},{"r":2,"c":2,"t":"d","x":123,"y":-0.22},{"r":2,"c":2,"t":"d","x":125,"y":-0.3},{"r":2,"c":2,"t":"d","x":127,"y":-0.18},{"r":2,"c":2,"t":"d","x":129,"y":-0.55},{"r":2,"c":2,"t":"d","x":131,"y":-0.25},{"r":2,"c":2,"t":"d","x":133,"y":-0.38},{"r":2,"c":2,"t":"d","x":135,"y":-0.12},{"r":2,"c":2,"t":"d","x":137,"y":-0.48},{"r":2,"c":2,"t":"d","x":139,"y":0.02},{"r":2,"c":2,"t":"d","x":140,"y":-0.1},
{"r":2,"c":2,"t":"e","x":1,"y":-0.12},{"r":2,"c":2,"t":"e","x":3,"y":-0.2},{"r":2,"c":2,"t":"e","x":5,"y":-0.18},{"r":2,"c":2,"t":"e","x":8,"y":-0.08},{"r":2,"c":2,"t":"e","x":10,"y":-0.02},{"r":2,"c":2,"t":"e","x":13,"y":-0.01},{"r":2,"c":2,"t":"e","x":16,"y":-0.05},{"r":2,"c":2,"t":"e","x":20,"y":-0.15},{"r":2,"c":2,"t":"e","x":23,"y":-0.18},{"r":2,"c":2,"t":"e","x":26,"y":-0.12},{"r":2,"c":2,"t":"e","x":30,"y":-0.12},{"r":2,"c":2,"t":"e","x":35,"y":-0.1},{"r":2,"c":2,"t":"e","x":40,"y":-0.12},{"r":2,"c":2,"t":"e","x":45,"y":-0.1},{"r":2,"c":2,"t":"e","x":50,"y":-0.12},{"r":2,"c":2,"t":"e","x":55,"y":-0.22},{"r":2,"c":2,"t":"e","x":60,"y":-0.3},{"r":2,"c":2,"t":"e","x":65,"y":-0.32},{"r":2,"c":2,"t":"e","x":70,"y":-0.33},{"r":2,"c":2,"t":"e","x":75,"y":-0.35},{"r":2,"c":2,"t":"e","x":80,"y":-0.38},{"r":2,"c":2,"t":"e","x":85,"y":-0.36},{"r":2,"c":2,"t":"e","x":90,"y":-0.35},{"r":2,"c":2,"t":"e","x":95,"y":-0.3},{"r":2,"c":2,"t":"e","x":100,"y":-0.27},{"r":2,"c":2,"t":"e","x":105,"y":-0.25},{"r":2,"c":2,"t":"e","x":110,"y":-0.27},{"r":2,"c":2,"t":"e","x":115,"y":-0.3},{"r":2,"c":2,"t":"e","x":120,"y":-0.27},{"r":2,"c":2,"t":"e","x":125,"y":-0.26},{"r":2,"c":2,"t":"e","x":130,"y":-0.28},{"r":2,"c":2,"t":"e","x":135,"y":-0.25},{"r":2,"c":2,"t":"e","x":140,"y":-0.22},
{"r":2,"c":3,"t":"a","x":1,"y":-0.18},{"r":2,"c":3,"t":"a","x":2,"y":-0.1},{"r":2,"c":3,"t":"a","x":5,"y":-0.22},{"r":2,"c":3,"t":"a","x":10,"y":-0.28},{"r":2,"c":3,"t":"a","x":20,"y":-0.26},{"r":2,"c":3,"t":"a","x":30,"y":-0.26},{"r":2,"c":3,"t":"a","x":40,"y":-0.24},{"r":2,"c":3,"t":"a","x":50,"y":-0.23},{"r":2,"c":3,"t":"a","x":60,"y":-0.24},{"r":2,"c":3,"t":"a","x":70,"y":-0.24},{"r":2,"c":3,"t":"a","x":80,"y":-0.25},{"r":2,"c":3,"t":"a","x":90,"y":-0.25},{"r":2,"c":3,"t":"a","x":100,"y":-0.25},{"r":2,"c":3,"t":"a","x":110,"y":-0.25},{"r":2,"c":3,"t":"a","x":120,"y":-0.25},{"r":2,"c":3,"t":"a","x":130,"y":-0.25},{"r":2,"c":3,"t":"a","x":140,"y":-0.25},
{"r":2,"c":3,"t":"b","x":1,"y":-0.18},{"r":2,"c":3,"t":"b","x":2,"y":-0.1},{"r":2,"c":3,"t":"b","x":5,"y":-0.22},{"r":2,"c":3,"t":"b","x":10,"y":-0.28},{"r":2,"c":3,"t":"b","x":20,"y":-0.26},{"r":2,"c":3,"t":"b","x":30,"y":-0.26},{"r":2,"c":3,"t":"b","x":40,"y":-0.24},{"r":2,"c":3,"t":"b","x":50,"y":-0.23},{"r":2,"c":3,"t":"b","x":60,"y":-0.24},{"r":2,"c":3,"t":"b","x":70,"y":-0.24},{"r":2,"c":3,"t":"b","x":80,"y":-0.25},{"r":2,"c":3,"t":"b","x":90,"y":-0.25},{"r":2,"c":3,"t":"b","x":100,"y":-0.25},{"r":2,"c":3,"t":"b","x":110,"y":-0.25},{"r":2,"c":3,"t":"b","x":120,"y":-0.25},{"r":2,"c":3,"t":"b","x":130,"y":-0.25},{"r":2,"c":3,"t":"b","x":140,"y":-0.25},
{"r":2,"c":3,"t":"c","x":1,"y":-0.18},{"r":2,"c":3,"t":"c","x":2,"y":-0.1},{"r":2,"c":3,"t":"c","x":5,"y":-0.22},{"r":2,"c":3,"t":"c","x":10,"y":-0.28},{"r":2,"c":3,"t":"c","x":20,"y":-0.26},{"r":2,"c":3,"t":"c","x":30,"y":-0.26},{"r":2,"c":3,"t":"c","x":40,"y":-0.24},{"r":2,"c":3,"t":"c","x":50,"y":-0.23},{"r":2,"c":3,"t":"c","x":60,"y":-0.24},{"r":2,"c":3,"t":"c","x":70,"y":-0.24},{"r":2,"c":3,"t":"c","x":80,"y":-0.25},{"r":2,"c":3,"t":"c","x":90,"y":-0.25},{"r":2,"c":3,"t":"c","x":100,"y":-0.25},{"r":2,"c":3,"t":"c","x":110,"y":-0.25},{"r":2,"c":3,"t":"c","x":120,"y":-0.25},{"r":2,"c":3,"t":"c","x":130,"y":-0.25},{"r":2,"c":3,"t":"c","x":140,"y":-0.25},
{"r":2,"c":3,"t":"d","x":1,"y":-0.15},{"r":2,"c":3,"t":"d","x":3,"y":0.0},{"r":2,"c":3,"t":"d","x":5,"y":-0.45},{"r":2,"c":3,"t":"d","x":7,"y":0.0},{"r":2,"c":3,"t":"d","x":9,"y":-0.85},{"r":2,"c":3,"t":"d","x":11,"y":0.05},{"r":2,"c":3,"t":"d","x":13,"y":-0.2},{"r":2,"c":3,"t":"d","x":15,"y":-0.55},{"r":2,"c":3,"t":"d","x":17,"y":-0.05},{"r":2,"c":3,"t":"d","x":19,"y":-0.3},{"r":2,"c":3,"t":"d","x":21,"y":0.0},{"r":2,"c":3,"t":"d","x":23,"y":-0.4},{"r":2,"c":3,"t":"d","x":25,"y":-0.15},{"r":2,"c":3,"t":"d","x":27,"y":-0.55},{"r":2,"c":3,"t":"d","x":29,"y":0.08},{"r":2,"c":3,"t":"d","x":31,"y":-0.3},{"r":2,"c":3,"t":"d","x":33,"y":-0.05},{"r":2,"c":3,"t":"d","x":35,"y":-0.86},{"r":2,"c":3,"t":"d","x":37,"y":-0.2},{"r":2,"c":3,"t":"d","x":39,"y":-0.45},{"r":2,"c":3,"t":"d","x":41,"y":-0.1},{"r":2,"c":3,"t":"d","x":43,"y":-0.35},{"r":2,"c":3,"t":"d","x":45,"y":0.31},{"r":2,"c":3,"t":"d","x":47,"y":-0.4},{"r":2,"c":3,"t":"d","x":49,"y":-0.05},{"r":2,"c":3,"t":"d","x":51,"y":-0.7},{"r":2,"c":3,"t":"d","x":53,"y":-0.1},{"r":2,"c":3,"t":"d","x":55,"y":-0.55},{"r":2,"c":3,"t":"d","x":57,"y":0.22},{"r":2,"c":3,"t":"d","x":59,"y":-0.35},{"r":2,"c":3,"t":"d","x":61,"y":0.0},{"r":2,"c":3,"t":"d","x":63,"y":-0.45},{"r":2,"c":3,"t":"d","x":65,"y":-0.99},{"r":2,"c":3,"t":"d","x":67,"y":-0.2},{"r":2,"c":3,"t":"d","x":69,"y":-0.35},{"r":2,"c":3,"t":"d","x":71,"y":-0.05},{"r":2,"c":3,"t":"d","x":73,"y":-0.4},{"r":2,"c":3,"t":"d","x":75,"y":-0.15},{"r":2,"c":3,"t":"d","x":77,"y":-0.3},{"r":2,"c":3,"t":"d","x":79,"y":-0.1},{"r":2,"c":3,"t":"d","x":81,"y":-0.75},{"r":2,"c":3,"t":"d","x":83,"y":-0.2},{"r":2,"c":3,"t":"d","x":85,"y":-0.05},{"r":2,"c":3,"t":"d","x":87,"y":-0.4},{"r":2,"c":3,"t":"d","x":89,"y":0.0},{"r":2,"c":3,"t":"d","x":91,"y":-0.7},{"r":2,"c":3,"t":"d","x":93,"y":-0.15},{"r":2,"c":3,"t":"d","x":95,"y":-0.4},{"r":2,"c":3,"t":"d","x":97,"y":-0.05},{"r":2,"c":3,"t":"d","x":99,"y":0.28},{"r":2,"c":3,"t":"d","x":101,"y":-0.3},{"r":2,"c":3,"t":"d","x":103,"y":-0.55},{"r":2,"c":3,"t":"d","x":105,"y":-0.1},{"r":2,"c":3,"t":"d","x":107,"y":-0.7},{"r":2,"c":3,"t":"d","x":109,"y":-0.35},{"r":2,"c":3,"t":"d","x":111,"y":-0.05},{"r":2,"c":3,"t":"d","x":113,"y":-0.4},{"r":2,"c":3,"t":"d","x":115,"y":0.05},{"r":2,"c":3,"t":"d","x":117,"y":-0.2},{"r":2,"c":3,"t":"d","x":119,"y":-0.55},{"r":2,"c":3,"t":"d","x":121,"y":-0.15},{"r":2,"c":3,"t":"d","x":123,"y":-0.65},{"r":2,"c":3,"t":"d","x":125,"y":0.0},{"r":2,"c":3,"t":"d","x":127,"y":-0.3},{"r":2,"c":3,"t":"d","x":129,"y":-0.5},{"r":2,"c":3,"t":"d","x":131,"y":-0.1},{"r":2,"c":3,"t":"d","x":133,"y":-0.4},{"r":2,"c":3,"t":"d","x":135,"y":-0.65},{"r":2,"c":3,"t":"d","x":137,"y":-0.15},{"r":2,"c":3,"t":"d","x":139,"y":-0.05},{"r":2,"c":3,"t":"d","x":140,"y":-0.3},
{"r":2,"c":3,"t":"e","x":1,"y":-0.15},{"r":2,"c":3,"t":"e","x":3,"y":-0.1},{"r":2,"c":3,"t":"e","x":5,"y":-0.18},{"r":2,"c":3,"t":"e","x":8,"y":-0.28},{"r":2,"c":3,"t":"e","x":11,"y":-0.3},{"r":2,"c":3,"t":"e","x":14,"y":-0.27},{"r":2,"c":3,"t":"e","x":17,"y":-0.24},{"r":2,"c":3,"t":"e","x":20,"y":-0.26},{"r":2,"c":3,"t":"e","x":23,"y":-0.22},{"r":2,"c":3,"t":"e","x":26,"y":-0.2},{"r":2,"c":3,"t":"e","x":29,"y":-0.25},{"r":2,"c":3,"t":"e","x":32,"y":-0.3},{"r":2,"c":3,"t":"e","x":35,"y":-0.32},{"r":2,"c":3,"t":"e","x":38,"y":-0.28},{"r":2,"c":3,"t":"e","x":41,"y":-0.22},{"r":2,"c":3,"t":"e","x":44,"y":-0.18},{"r":2,"c":3,"t":"e","x":47,"y":-0.23},{"r":2,"c":3,"t":"e","x":50,"y":-0.28},{"r":2,"c":3,"t":"e","x":53,"y":-0.25},{"r":2,"c":3,"t":"e","x":56,"y":-0.2},{"r":2,"c":3,"t":"e","x":59,"y":-0.18},{"r":2,"c":3,"t":"e","x":62,"y":-0.24},{"r":2,"c":3,"t":"e","x":65,"y":-0.3},{"r":2,"c":3,"t":"e","x":68,"y":-0.32},{"r":2,"c":3,"t":"e","x":71,"y":-0.28},{"r":2,"c":3,"t":"e","x":74,"y":-0.22},{"r":2,"c":3,"t":"e","x":77,"y":-0.2},{"r":2,"c":3,"t":"e","x":80,"y":-0.26},{"r":2,"c":3,"t":"e","x":83,"y":-0.3},{"r":2,"c":3,"t":"e","x":86,"y":-0.27},{"r":2,"c":3,"t":"e","x":89,"y":-0.22},{"r":2,"c":3,"t":"e","x":92,"y":-0.26},{"r":2,"c":3,"t":"e","x":95,"y":-0.32},{"r":2,"c":3,"t":"e","x":98,"y":-0.34},{"r":2,"c":3,"t":"e","x":101,"y":-0.3},{"r":2,"c":3,"t":"e","x":104,"y":-0.24},{"r":2,"c":3,"t":"e","x":107,"y":-0.18},{"r":2,"c":3,"t":"e","x":110,"y":-0.2},{"r":2,"c":3,"t":"e","x":113,"y":-0.28},{"r":2,"c":3,"t":"e","x":116,"y":-0.33},{"r":2,"c":3,"t":"e","x":119,"y":-0.3},{"r":2,"c":3,"t":"e","x":122,"y":-0.24},{"r":2,"c":3,"t":"e","x":125,"y":-0.2},{"r":2,"c":3,"t":"e","x":128,"y":-0.25},{"r":2,"c":3,"t":"e","x":131,"y":-0.3},{"r":2,"c":3,"t":"e","x":134,"y":-0.28},{"r":2,"c":3,"t":"e","x":137,"y":-0.26},{"r":2,"c":3,"t":"e","x":140,"y":-0.28},
{"r":3,"c":1,"t":"a","x":1,"y":-0.7},{"r":3,"c":1,"t":"a","x":2,"y":-0.68},{"r":3,"c":1,"t":"a","x":5,"y":-0.62},{"r":3,"c":1,"t":"a","x":7,"y":-0.2},{"r":3,"c":1,"t":"a","x":9,"y":0.05},{"r":3,"c":1,"t":"a","x":12,"y":0.12},{"r":3,"c":1,"t":"a","x":15,"y":0.15},{"r":3,"c":1,"t":"a","x":20,"y":0.18},{"r":3,"c":1,"t":"a","x":25,"y":0.25},{"r":3,"c":1,"t":"a","x":30,"y":0.25},{"r":3,"c":1,"t":"a","x":35,"y":0.22},{"r":3,"c":1,"t":"a","x":38,"y":0.28},{"r":3,"c":1,"t":"a","x":40,"y":0.33},{"r":3,"c":1,"t":"a","x":45,"y":0.35},{"r":3,"c":1,"t":"a","x":50,"y":0.37},{"r":3,"c":1,"t":"a","x":55,"y":0.37},{"r":3,"c":1,"t":"a","x":60,"y":0.36},{"r":3,"c":1,"t":"a","x":65,"y":0.4},{"r":3,"c":1,"t":"a","x":70,"y":0.44},{"r":3,"c":1,"t":"a","x":75,"y":0.47},{"r":3,"c":1,"t":"a","x":80,"y":0.5},{"r":3,"c":1,"t":"a","x":85,"y":0.53},{"r":3,"c":1,"t":"a","x":90,"y":0.55},{"r":3,"c":1,"t":"a","x":100,"y":0.58},{"r":3,"c":1,"t":"a","x":110,"y":0.59},{"r":3,"c":1,"t":"a","x":120,"y":0.6},{"r":3,"c":1,"t":"a","x":130,"y":0.61},{"r":3,"c":1,"t":"a","x":140,"y":0.61},
{"r":3,"c":1,"t":"b","x":1,"y":-0.25},{"r":3,"c":1,"t":"b","x":3,"y":-0.28},{"r":3,"c":1,"t":"b","x":5,"y":-0.35},{"r":3,"c":1,"t":"b","x":7,"y":0.0},{"r":3,"c":1,"t":"b","x":10,"y":0.15},{"r":3,"c":1,"t":"b","x":13,"y":0.35},{"r":3,"c":1,"t":"b","x":15,"y":0.38},{"r":3,"c":1,"t":"b","x":20,"y":0.38},{"r":3,"c":1,"t":"b","x":25,"y":0.47},{"r":3,"c":1,"t":"b","x":30,"y":0.45},{"r":3,"c":1,"t":"b","x":35,"y":0.42},{"r":3,"c":1,"t":"b","x":38,"y":0.45},{"r":3,"c":1,"t":"b","x":40,"y":0.58},{"r":3,"c":1,"t":"b","x":45,"y":0.56},{"r":3,"c":1,"t":"b","x":50,"y":0.6},{"r":3,"c":1,"t":"b","x":55,"y":0.6},{"r":3,"c":1,"t":"b","x":60,"y":0.57},{"r":3,"c":1,"t":"b","x":65,"y":0.58},{"r":3,"c":1,"t":"b","x":70,"y":0.58},{"r":3,"c":1,"t":"b","x":80,"y":0.6},{"r":3,"c":1,"t":"b","x":85,"y":0.62},{"r":3,"c":1,"t":"b","x":90,"y":0.64},{"r":3,"c":1,"t":"b","x":100,"y":0.65},{"r":3,"c":1,"t":"b","x":110,"y":0.65},{"r":3,"c":1,"t":"b","x":120,"y":0.67},{"r":3,"c":1,"t":"b","x":130,"y":0.68},{"r":3,"c":1,"t":"b","x":140,"y":0.7},
{"r":3,"c":1,"t":"c","x":1,"y":-0.45},{"r":3,"c":1,"t":"c","x":3,"y":-0.45},{"r":3,"c":1,"t":"c","x":5,"y":-0.4},{"r":3,"c":1,"t":"c","x":8,"y":-0.1},{"r":3,"c":1,"t":"c","x":10,"y":0.08},{"r":3,"c":1,"t":"c","x":13,"y":0.25},{"r":3,"c":1,"t":"c","x":20,"y":0.32},{"r":3,"c":1,"t":"c","x":25,"y":0.4},{"r":3,"c":1,"t":"c","x":30,"y":0.4},{"r":3,"c":1,"t":"c","x":35,"y":0.32},{"r":3,"c":1,"t":"c","x":38,"y":0.38},{"r":3,"c":1,"t":"c","x":40,"y":0.42},{"r":3,"c":1,"t":"c","x":45,"y":0.45},{"r":3,"c":1,"t":"c","x":50,"y":0.47},{"r":3,"c":1,"t":"c","x":55,"y":0.48},{"r":3,"c":1,"t":"c","x":60,"y":0.48},{"r":3,"c":1,"t":"c","x":65,"y":0.5},{"r":3,"c":1,"t":"c","x":70,"y":0.54},{"r":3,"c":1,"t":"c","x":75,"y":0.58},{"r":3,"c":1,"t":"c","x":80,"y":0.63},{"r":3,"c":1,"t":"c","x":85,"y":0.68},{"r":3,"c":1,"t":"c","x":90,"y":0.73},{"r":3,"c":1,"t":"c","x":95,"y":0.77},{"r":3,"c":1,"t":"c","x":100,"y":0.78},{"r":3,"c":1,"t":"c","x":105,"y":0.78},{"r":3,"c":1,"t":"c","x":110,"y":0.8},{"r":3,"c":1,"t":"c","x":115,"y":0.84},{"r":3,"c":1,"t":"c","x":120,"y":0.86},{"r":3,"c":1,"t":"c","x":125,"y":0.84},{"r":3,"c":1,"t":"c","x":130,"y":0.84},{"r":3,"c":1,"t":"c","x":135,"y":0.85},{"r":3,"c":1,"t":"c","x":140,"y":0.86},
{"r":3,"c":1,"t":"d","x":1,"y":0.12},{"r":3,"c":1,"t":"d","x":2,"y":-1.45},{"r":3,"c":1,"t":"d","x":3,"y":-0.3},{"r":3,"c":1,"t":"d","x":5,"y":-0.6},{"r":3,"c":1,"t":"d","x":7,"y":-0.05},{"r":3,"c":1,"t":"d","x":9,"y":1.0},{"r":3,"c":1,"t":"d","x":11,"y":-0.55},{"r":3,"c":1,"t":"d","x":13,"y":1.17},{"r":3,"c":1,"t":"d","x":15,"y":0.1},{"r":3,"c":1,"t":"d","x":17,"y":-0.4},{"r":3,"c":1,"t":"d","x":19,"y":0.6},{"r":3,"c":1,"t":"d","x":21,"y":-1.1},{"r":3,"c":1,"t":"d","x":23,"y":0.7},{"r":3,"c":1,"t":"d","x":25,"y":0.95},{"r":3,"c":1,"t":"d","x":27,"y":1.2},{"r":3,"c":1,"t":"d","x":29,"y":-0.2},{"r":3,"c":1,"t":"d","x":31,"y":0.8},{"r":3,"c":1,"t":"d","x":33,"y":-1.45},{"r":3,"c":1,"t":"d","x":35,"y":0.5},{"r":3,"c":1,"t":"d","x":37,"y":-1.45},{"r":3,"c":1,"t":"d","x":39,"y":0.3},{"r":3,"c":1,"t":"d","x":41,"y":1.3},{"r":3,"c":1,"t":"d","x":43,"y":-0.5},{"r":3,"c":1,"t":"d","x":45,"y":1.35},{"r":3,"c":1,"t":"d","x":47,"y":-0.2},{"r":3,"c":1,"t":"d","x":49,"y":1.2},{"r":3,"c":1,"t":"d","x":51,"y":-1.0},{"r":3,"c":1,"t":"d","x":53,"y":0.85},{"r":3,"c":1,"t":"d","x":55,"y":0.4},{"r":3,"c":1,"t":"d","x":57,"y":-0.3},{"r":3,"c":1,"t":"d","x":59,"y":0.95},{"r":3,"c":1,"t":"d","x":61,"y":0.1},{"r":3,"c":1,"t":"d","x":63,"y":0.8},{"r":3,"c":1,"t":"d","x":65,"y":-0.1},{"r":3,"c":1,"t":"d","x":67,"y":1.05},{"r":3,"c":1,"t":"d","x":69,"y":0.2},{"r":3,"c":1,"t":"d","x":71,"y":0.75},{"r":3,"c":1,"t":"d","x":73,"y":0.35},{"r":3,"c":1,"t":"d","x":75,"y":-0.05},{"r":3,"c":1,"t":"d","x":77,"y":0.7},{"r":3,"c":1,"t":"d","x":79,"y":0.45},{"r":3,"c":1,"t":"d","x":81,"y":0.9},{"r":3,"c":1,"t":"d","x":83,"y":0.4},{"r":3,"c":1,"t":"d","x":85,"y":0.85},{"r":3,"c":1,"t":"d","x":87,"y":0.35},{"r":3,"c":1,"t":"d","x":89,"y":0.8},{"r":3,"c":1,"t":"d","x":91,"y":0.5},{"r":3,"c":1,"t":"d","x":93,"y":0.95},{"r":3,"c":1,"t":"d","x":95,"y":0.5},{"r":3,"c":1,"t":"d","x":97,"y":1.1},{"r":3,"c":1,"t":"d","x":99,"y":0.4},{"r":3,"c":1,"t":"d","x":101,"y":0.85},{"r":3,"c":1,"t":"d","x":103,"y":0.3},{"r":3,"c":1,"t":"d","x":105,"y":0.75},{"r":3,"c":1,"t":"d","x":107,"y":0.2},{"r":3,"c":1,"t":"d","x":109,"y":-0.3},{"r":3,"c":1,"t":"d","x":111,"y":1.25},{"r":3,"c":1,"t":"d","x":113,"y":0.8},{"r":3,"c":1,"t":"d","x":115,"y":0.6},{"r":3,"c":1,"t":"d","x":117,"y":0.95},{"r":3,"c":1,"t":"d","x":119,"y":0.4},{"r":3,"c":1,"t":"d","x":121,"y":0.85},{"r":3,"c":1,"t":"d","x":123,"y":1.2},{"r":3,"c":1,"t":"d","x":125,"y":0.35},{"r":3,"c":1,"t":"d","x":127,"y":0.3},{"r":3,"c":1,"t":"d","x":129,"y":0.75},{"r":3,"c":1,"t":"d","x":131,"y":0.4},{"r":3,"c":1,"t":"d","x":133,"y":0.9},{"r":3,"c":1,"t":"d","x":135,"y":0.5},{"r":3,"c":1,"t":"d","x":137,"y":0.95},{"r":3,"c":1,"t":"d","x":139,"y":0.85},{"r":3,"c":1,"t":"d","x":140,"y":0.1},
{"r":3,"c":1,"t":"e","x":2,"y":-0.3},{"r":3,"c":1,"t":"e","x":4,"y":-0.3},{"r":3,"c":1,"t":"e","x":6,"y":-0.35},{"r":3,"c":1,"t":"e","x":8,"y":-0.05},{"r":3,"c":1,"t":"e","x":10,"y":0.2},{"r":3,"c":1,"t":"e","x":12,"y":0.45},{"r":3,"c":1,"t":"e","x":15,"y":0.5},{"r":3,"c":1,"t":"e","x":18,"y":0.58},{"r":3,"c":1,"t":"e","x":20,"y":0.62},{"r":3,"c":1,"t":"e","x":23,"y":0.62},{"r":3,"c":1,"t":"e","x":26,"y":0.58},{"r":3,"c":1,"t":"e","x":28,"y":0.48},{"r":3,"c":1,"t":"e","x":30,"y":0.42},{"r":3,"c":1,"t":"e","x":33,"y":0.4},{"r":3,"c":1,"t":"e","x":36,"y":0.3},{"r":3,"c":1,"t":"e","x":38,"y":0.35},{"r":3,"c":1,"t":"e","x":40,"y":0.55},{"r":3,"c":1,"t":"e","x":42,"y":0.75},{"r":3,"c":1,"t":"e","x":45,"y":0.88},{"r":3,"c":1,"t":"e","x":48,"y":0.9},{"r":3,"c":1,"t":"e","x":51,"y":0.88},{"r":3,"c":1,"t":"e","x":53,"y":0.8},{"r":3,"c":1,"t":"e","x":55,"y":0.6},{"r":3,"c":1,"t":"e","x":58,"y":0.5},{"r":3,"c":1,"t":"e","x":61,"y":0.42},{"r":3,"c":1,"t":"e","x":64,"y":0.45},{"r":3,"c":1,"t":"e","x":67,"y":0.55},{"r":3,"c":1,"t":"e","x":70,"y":0.58},{"r":3,"c":1,"t":"e","x":73,"y":0.55},{"r":3,"c":1,"t":"e","x":76,"y":0.58},{"r":3,"c":1,"t":"e","x":79,"y":0.62},{"r":3,"c":1,"t":"e","x":82,"y":0.65},{"r":3,"c":1,"t":"e","x":85,"y":0.62},{"r":3,"c":1,"t":"e","x":88,"y":0.63},{"r":3,"c":1,"t":"e","x":91,"y":0.65},{"r":3,"c":1,"t":"e","x":94,"y":0.68},{"r":3,"c":1,"t":"e","x":97,"y":0.65},{"r":3,"c":1,"t":"e","x":100,"y":0.64},{"r":3,"c":1,"t":"e","x":103,"y":0.66},{"r":3,"c":1,"t":"e","x":106,"y":0.65},{"r":3,"c":1,"t":"e","x":109,"y":0.7},{"r":3,"c":1,"t":"e","x":112,"y":0.8},{"r":3,"c":1,"t":"e","x":115,"y":0.88},{"r":3,"c":1,"t":"e","x":118,"y":0.9},{"r":3,"c":1,"t":"e","x":121,"y":0.85},{"r":3,"c":1,"t":"e","x":124,"y":0.8},{"r":3,"c":1,"t":"e","x":127,"y":0.75},{"r":3,"c":1,"t":"e","x":130,"y":0.72},{"r":3,"c":1,"t":"e","x":133,"y":0.75},{"r":3,"c":1,"t":"e","x":136,"y":0.78},{"r":3,"c":1,"t":"e","x":139,"y":0.8},{"r":3,"c":1,"t":"e","x":140,"y":0.82},
{"r":3,"c":2,"t":"a","x":1,"y":-0.1},{"r":3,"c":2,"t":"a","x":3,"y":0.0},{"r":3,"c":2,"t":"a","x":5,"y":-0.1},{"r":3,"c":2,"t":"a","x":10,"y":-0.05},{"r":3,"c":2,"t":"a","x":20,"y":-0.02},{"r":3,"c":2,"t":"a","x":30,"y":-0.02},{"r":3,"c":2,"t":"a","x":40,"y":0.02},{"r":3,"c":2,"t":"a","x":50,"y":0.05},{"r":3,"c":2,"t":"a","x":60,"y":0.08},{"r":3,"c":2,"t":"a","x":70,"y":0.1},{"r":3,"c":2,"t":"a","x":80,"y":0.14},{"r":3,"c":2,"t":"a","x":90,"y":0.17},{"r":3,"c":2,"t":"a","x":100,"y":0.2},{"r":3,"c":2,"t":"a","x":110,"y":0.22},{"r":3,"c":2,"t":"a","x":120,"y":0.24},{"r":3,"c":2,"t":"a","x":130,"y":0.25},{"r":3,"c":2,"t":"a","x":140,"y":0.25},
{"r":3,"c":2,"t":"b","x":1,"y":-0.1},{"r":3,"c":2,"t":"b","x":3,"y":0.05},{"r":3,"c":2,"t":"b","x":5,"y":-0.05},{"r":3,"c":2,"t":"b","x":8,"y":-0.02},{"r":3,"c":2,"t":"b","x":12,"y":0.05},{"r":3,"c":2,"t":"b","x":15,"y":0.08},{"r":3,"c":2,"t":"b","x":20,"y":0.05},{"r":3,"c":2,"t":"b","x":25,"y":0.05},{"r":3,"c":2,"t":"b","x":28,"y":0.02},{"r":3,"c":2,"t":"b","x":32,"y":0.08},{"r":3,"c":2,"t":"b","x":35,"y":0.08},{"r":3,"c":2,"t":"b","x":40,"y":0.05},{"r":3,"c":2,"t":"b","x":45,"y":0.08},{"r":3,"c":2,"t":"b","x":50,"y":0.1},{"r":3,"c":2,"t":"b","x":60,"y":0.11},{"r":3,"c":2,"t":"b","x":70,"y":0.12},{"r":3,"c":2,"t":"b","x":75,"y":0.13},{"r":3,"c":2,"t":"b","x":80,"y":0.18},{"r":3,"c":2,"t":"b","x":90,"y":0.22},{"r":3,"c":2,"t":"b","x":100,"y":0.26},{"r":3,"c":2,"t":"b","x":110,"y":0.28},{"r":3,"c":2,"t":"b","x":120,"y":0.31},{"r":3,"c":2,"t":"b","x":130,"y":0.33},{"r":3,"c":2,"t":"b","x":140,"y":0.35},
{"r":3,"c":2,"t":"c","x":1,"y":-0.1},{"r":3,"c":2,"t":"c","x":3,"y":0.02},{"r":3,"c":2,"t":"c","x":5,"y":-0.08},{"r":3,"c":2,"t":"c","x":10,"y":-0.04},{"r":3,"c":2,"t":"c","x":15,"y":0.02},{"r":3,"c":2,"t":"c","x":20,"y":0.02},{"r":3,"c":2,"t":"c","x":30,"y":0.0},{"r":3,"c":2,"t":"c","x":40,"y":0.02},{"r":3,"c":2,"t":"c","x":45,"y":0.03},{"r":3,"c":2,"t":"c","x":50,"y":0.04},{"r":3,"c":2,"t":"c","x":60,"y":0.06},{"r":3,"c":2,"t":"c","x":70,"y":0.09},{"r":3,"c":2,"t":"c","x":75,"y":0.12},{"r":3,"c":2,"t":"c","x":80,"y":0.16},{"r":3,"c":2,"t":"c","x":90,"y":0.2},{"r":3,"c":2,"t":"c","x":100,"y":0.25},{"r":3,"c":2,"t":"c","x":110,"y":0.28},{"r":3,"c":2,"t":"c","x":120,"y":0.31},{"r":3,"c":2,"t":"c","x":130,"y":0.33},{"r":3,"c":2,"t":"c","x":140,"y":0.37},
{"r":3,"c":2,"t":"d","x":1,"y":-0.15},{"r":3,"c":2,"t":"d","x":3,"y":0.2},{"r":3,"c":2,"t":"d","x":5,"y":-0.85},{"r":3,"c":2,"t":"d","x":6,"y":0.85},{"r":3,"c":2,"t":"d","x":7,"y":-0.2},{"r":3,"c":2,"t":"d","x":9,"y":0.1},{"r":3,"c":2,"t":"d","x":11,"y":-0.65},{"r":3,"c":2,"t":"d","x":13,"y":0.3},{"r":3,"c":2,"t":"d","x":15,"y":-0.45},{"r":3,"c":2,"t":"d","x":17,"y":0.5},{"r":3,"c":2,"t":"d","x":19,"y":-0.25},{"r":3,"c":2,"t":"d","x":21,"y":0.25},{"r":3,"c":2,"t":"d","x":23,"y":-0.2},{"r":3,"c":2,"t":"d","x":25,"y":0.35},{"r":3,"c":2,"t":"d","x":27,"y":-0.1},{"r":3,"c":2,"t":"d","x":29,"y":0.1},{"r":3,"c":2,"t":"d","x":31,"y":-0.55},{"r":3,"c":2,"t":"d","x":33,"y":0.45},{"r":3,"c":2,"t":"d","x":35,"y":-0.1},{"r":3,"c":2,"t":"d","x":37,"y":-0.6},{"r":3,"c":2,"t":"d","x":39,"y":0.65},{"r":3,"c":2,"t":"d","x":41,"y":-0.05},{"r":3,"c":2,"t":"d","x":43,"y":-0.78},{"r":3,"c":2,"t":"d","x":45,"y":0.2},{"r":3,"c":2,"t":"d","x":47,"y":-0.4},{"r":3,"c":2,"t":"d","x":49,"y":0.45},{"r":3,"c":2,"t":"d","x":51,"y":0.0},{"r":3,"c":2,"t":"d","x":53,"y":-0.2},{"r":3,"c":2,"t":"d","x":55,"y":0.55},{"r":3,"c":2,"t":"d","x":57,"y":-0.7},{"r":3,"c":2,"t":"d","x":59,"y":0.3},{"r":3,"c":2,"t":"d","x":61,"y":-0.35},{"r":3,"c":2,"t":"d","x":63,"y":0.45},{"r":3,"c":2,"t":"d","x":65,"y":0.05},{"r":3,"c":2,"t":"d","x":67,"y":-0.3},{"r":3,"c":2,"t":"d","x":69,"y":0.5},{"r":3,"c":2,"t":"d","x":71,"y":-0.55},{"r":3,"c":2,"t":"d","x":73,"y":0.1},{"r":3,"c":2,"t":"d","x":75,"y":-0.6},{"r":3,"c":2,"t":"d","x":77,"y":0.7},{"r":3,"c":2,"t":"d","x":79,"y":0.3},{"r":3,"c":2,"t":"d","x":81,"y":0.1},{"r":3,"c":2,"t":"d","x":83,"y":-0.15},{"r":3,"c":2,"t":"d","x":85,"y":0.75},{"r":3,"c":2,"t":"d","x":87,"y":0.2},{"r":3,"c":2,"t":"d","x":89,"y":0.55},{"r":3,"c":2,"t":"d","x":91,"y":0.1},{"r":3,"c":2,"t":"d","x":93,"y":0.65},{"r":3,"c":2,"t":"d","x":95,"y":0.35},{"r":3,"c":2,"t":"d","x":97,"y":0.15},{"r":3,"c":2,"t":"d","x":99,"y":0.55},{"r":3,"c":2,"t":"d","x":101,"y":0.35},{"r":3,"c":2,"t":"d","x":103,"y":0.75},{"r":3,"c":2,"t":"d","x":105,"y":0.25},{"r":3,"c":2,"t":"d","x":107,"y":0.95},{"r":3,"c":2,"t":"d","x":109,"y":-0.45},{"r":3,"c":2,"t":"d","x":111,"y":0.95},{"r":3,"c":2,"t":"d","x":113,"y":0.4},{"r":3,"c":2,"t":"d","x":115,"y":0.6},{"r":3,"c":2,"t":"d","x":117,"y":0.35},{"r":3,"c":2,"t":"d","x":119,"y":0.7},{"r":3,"c":2,"t":"d","x":121,"y":0.45},{"r":3,"c":2,"t":"d","x":123,"y":0.3},{"r":3,"c":2,"t":"d","x":125,"y":0.55},{"r":3,"c":2,"t":"d","x":127,"y":0.95},{"r":3,"c":2,"t":"d","x":129,"y":0.45},{"r":3,"c":2,"t":"d","x":131,"y":0.85},{"r":3,"c":2,"t":"d","x":133,"y":0.3},{"r":3,"c":2,"t":"d","x":135,"y":0.95},{"r":3,"c":2,"t":"d","x":137,"y":0.55},{"r":3,"c":2,"t":"d","x":139,"y":0.92},{"r":3,"c":2,"t":"d","x":140,"y":0.6},
{"r":3,"c":2,"t":"e","x":1,"y":-0.1},{"r":3,"c":2,"t":"e","x":4,"y":0.05},{"r":3,"c":2,"t":"e","x":7,"y":0.05},{"r":3,"c":2,"t":"e","x":10,"y":0.02},{"r":3,"c":2,"t":"e","x":13,"y":0.05},{"r":3,"c":2,"t":"e","x":16,"y":0.1},{"r":3,"c":2,"t":"e","x":19,"y":0.08},{"r":3,"c":2,"t":"e","x":22,"y":0.05},{"r":3,"c":2,"t":"e","x":25,"y":0.02},{"r":3,"c":2,"t":"e","x":28,"y":0.05},{"r":3,"c":2,"t":"e","x":31,"y":0.1},{"r":3,"c":2,"t":"e","x":34,"y":0.22},{"r":3,"c":2,"t":"e","x":37,"y":0.18},{"r":3,"c":2,"t":"e","x":40,"y":0.12},{"r":3,"c":2,"t":"e","x":43,"y":0.1},{"r":3,"c":2,"t":"e","x":46,"y":0.15},{"r":3,"c":2,"t":"e","x":49,"y":0.22},{"r":3,"c":2,"t":"e","x":52,"y":0.25},{"r":3,"c":2,"t":"e","x":55,"y":0.22},{"r":3,"c":2,"t":"e","x":58,"y":0.25},{"r":3,"c":2,"t":"e","x":61,"y":0.22},{"r":3,"c":2,"t":"e","x":64,"y":0.18},{"r":3,"c":2,"t":"e","x":67,"y":0.15},{"r":3,"c":2,"t":"e","x":70,"y":0.1},{"r":3,"c":2,"t":"e","x":73,"y":0.15},{"r":3,"c":2,"t":"e","x":76,"y":0.3},{"r":3,"c":2,"t":"e","x":79,"y":0.4},{"r":3,"c":2,"t":"e","x":82,"y":0.45},{"r":3,"c":2,"t":"e","x":85,"y":0.47},{"r":3,"c":2,"t":"e","x":88,"y":0.45},{"r":3,"c":2,"t":"e","x":91,"y":0.46},{"r":3,"c":2,"t":"e","x":94,"y":0.48},{"r":3,"c":2,"t":"e","x":97,"y":0.45},{"r":3,"c":2,"t":"e","x":100,"y":0.42},{"r":3,"c":2,"t":"e","x":103,"y":0.45},{"r":3,"c":2,"t":"e","x":106,"y":0.5},{"r":3,"c":2,"t":"e","x":109,"y":0.52},{"r":3,"c":2,"t":"e","x":112,"y":0.48},{"r":3,"c":2,"t":"e","x":115,"y":0.5},{"r":3,"c":2,"t":"e","x":118,"y":0.53},{"r":3,"c":2,"t":"e","x":121,"y":0.5},{"r":3,"c":2,"t":"e","x":124,"y":0.52},{"r":3,"c":2,"t":"e","x":127,"y":0.55},{"r":3,"c":2,"t":"e","x":130,"y":0.52},{"r":3,"c":2,"t":"e","x":133,"y":0.58},{"r":3,"c":2,"t":"e","x":136,"y":0.62},{"r":3,"c":2,"t":"e","x":139,"y":0.6},{"r":3,"c":2,"t":"e","x":140,"y":0.58},
{"r":3,"c":3,"t":"a","x":1,"y":1.07},{"r":3,"c":3,"t":"a","x":3,"y":0.25},{"r":3,"c":3,"t":"a","x":5,"y":-0.05},{"r":3,"c":3,"t":"a","x":8,"y":0.0},{"r":3,"c":3,"t":"a","x":10,"y":0.05},{"r":3,"c":3,"t":"a","x":15,"y":0.15},{"r":3,"c":3,"t":"a","x":20,"y":0.12},{"r":3,"c":3,"t":"a","x":25,"y":0.05},{"r":3,"c":3,"t":"a","x":28,"y":0.0},{"r":3,"c":3,"t":"a","x":30,"y":0.02},{"r":3,"c":3,"t":"a","x":35,"y":0.08},{"r":3,"c":3,"t":"a","x":40,"y":0.12},{"r":3,"c":3,"t":"a","x":50,"y":0.17},{"r":3,"c":3,"t":"a","x":60,"y":0.2},{"r":3,"c":3,"t":"a","x":70,"y":0.22},{"r":3,"c":3,"t":"a","x":80,"y":0.24},{"r":3,"c":3,"t":"a","x":90,"y":0.24},{"r":3,"c":3,"t":"a","x":100,"y":0.24},{"r":3,"c":3,"t":"a","x":110,"y":0.24},{"r":3,"c":3,"t":"a","x":120,"y":0.23},{"r":3,"c":3,"t":"a","x":130,"y":0.22},{"r":3,"c":3,"t":"a","x":140,"y":0.22},
{"r":3,"c":3,"t":"b","x":1,"y":1.07},{"r":3,"c":3,"t":"b","x":3,"y":0.5},{"r":3,"c":3,"t":"b","x":5,"y":0.45},{"r":3,"c":3,"t":"b","x":8,"y":0.4},{"r":3,"c":3,"t":"b","x":12,"y":0.35},{"r":3,"c":3,"t":"b","x":16,"y":0.33},{"r":3,"c":3,"t":"b","x":20,"y":0.3},{"r":3,"c":3,"t":"b","x":25,"y":0.25},{"r":3,"c":3,"t":"b","x":28,"y":0.2},{"r":3,"c":3,"t":"b","x":30,"y":0.22},{"r":3,"c":3,"t":"b","x":35,"y":0.25},{"r":3,"c":3,"t":"b","x":40,"y":0.28},{"r":3,"c":3,"t":"b","x":50,"y":0.32},{"r":3,"c":3,"t":"b","x":60,"y":0.33},{"r":3,"c":3,"t":"b","x":70,"y":0.34},{"r":3,"c":3,"t":"b","x":80,"y":0.33},{"r":3,"c":3,"t":"b","x":90,"y":0.32},{"r":3,"c":3,"t":"b","x":100,"y":0.3},{"r":3,"c":3,"t":"b","x":110,"y":0.33},{"r":3,"c":3,"t":"b","x":115,"y":0.37},{"r":3,"c":3,"t":"b","x":120,"y":0.36},{"r":3,"c":3,"t":"b","x":130,"y":0.35},{"r":3,"c":3,"t":"b","x":140,"y":0.35},
{"r":3,"c":3,"t":"c","x":1,"y":1.07},{"r":3,"c":3,"t":"c","x":3,"y":0.35},{"r":3,"c":3,"t":"c","x":5,"y":0.25},{"r":3,"c":3,"t":"c","x":8,"y":0.3},{"r":3,"c":3,"t":"c","x":12,"y":0.3},{"r":3,"c":3,"t":"c","x":20,"y":0.28},{"r":3,"c":3,"t":"c","x":25,"y":0.26},{"r":3,"c":3,"t":"c","x":30,"y":0.22},{"r":3,"c":3,"t":"c","x":35,"y":0.25},{"r":3,"c":3,"t":"c","x":40,"y":0.27},{"r":3,"c":3,"t":"c","x":50,"y":0.29},{"r":3,"c":3,"t":"c","x":60,"y":0.3},{"r":3,"c":3,"t":"c","x":70,"y":0.3},{"r":3,"c":3,"t":"c","x":80,"y":0.3},{"r":3,"c":3,"t":"c","x":90,"y":0.3},{"r":3,"c":3,"t":"c","x":100,"y":0.3},{"r":3,"c":3,"t":"c","x":110,"y":0.31},{"r":3,"c":3,"t":"c","x":120,"y":0.31},{"r":3,"c":3,"t":"c","x":130,"y":0.32},{"r":3,"c":3,"t":"c","x":140,"y":0.33},
{"r":3,"c":3,"t":"d","x":1,"y":1.07},{"r":3,"c":3,"t":"d","x":2,"y":0.3},{"r":3,"c":3,"t":"d","x":3,"y":-0.8},{"r":3,"c":3,"t":"d","x":4,"y":0.8},{"r":3,"c":3,"t":"d","x":5,"y":-1.45},{"r":3,"c":3,"t":"d","x":6,"y":0.3},{"r":3,"c":3,"t":"d","x":7,"y":-0.6},{"r":3,"c":3,"t":"d","x":9,"y":0.35},{"r":3,"c":3,"t":"d","x":11,"y":-1.45},{"r":3,"c":3,"t":"d","x":13,"y":0.6},{"r":3,"c":3,"t":"d","x":15,"y":0.65},{"r":3,"c":3,"t":"d","x":17,"y":-0.5},{"r":3,"c":3,"t":"d","x":19,"y":0.2},{"r":3,"c":3,"t":"d","x":21,"y":-0.9},{"r":3,"c":3,"t":"d","x":23,"y":0.55},{"r":3,"c":3,"t":"d","x":25,"y":-1.0},{"r":3,"c":3,"t":"d","x":27,"y":-1.45},{"r":3,"c":3,"t":"d","x":29,"y":0.1},{"r":3,"c":3,"t":"d","x":31,"y":0.45},{"r":3,"c":3,"t":"d","x":33,"y":0.15},{"r":3,"c":3,"t":"d","x":35,"y":1.25},{"r":3,"c":3,"t":"d","x":37,"y":0.3},{"r":3,"c":3,"t":"d","x":39,"y":-0.2},{"r":3,"c":3,"t":"d","x":41,"y":-0.9},{"r":3,"c":3,"t":"d","x":43,"y":0.8},{"r":3,"c":3,"t":"d","x":45,"y":0.4},{"r":3,"c":3,"t":"d","x":47,"y":1.05},{"r":3,"c":3,"t":"d","x":49,"y":0.3},{"r":3,"c":3,"t":"d","x":51,"y":1.0},{"r":3,"c":3,"t":"d","x":53,"y":-1.15},{"r":3,"c":3,"t":"d","x":55,"y":0.6},{"r":3,"c":3,"t":"d","x":57,"y":0.2},{"r":3,"c":3,"t":"d","x":59,"y":0.95},{"r":3,"c":3,"t":"d","x":61,"y":-0.45},{"r":3,"c":3,"t":"d","x":63,"y":0.4},{"r":3,"c":3,"t":"d","x":65,"y":0.95},{"r":3,"c":3,"t":"d","x":67,"y":0.05},{"r":3,"c":3,"t":"d","x":69,"y":0.5},{"r":3,"c":3,"t":"d","x":71,"y":0.15},{"r":3,"c":3,"t":"d","x":73,"y":0.8},{"r":3,"c":3,"t":"d","x":75,"y":0.3},{"r":3,"c":3,"t":"d","x":77,"y":0.5},{"r":3,"c":3,"t":"d","x":79,"y":0.9},{"r":3,"c":3,"t":"d","x":81,"y":-0.5},{"r":3,"c":3,"t":"d","x":83,"y":0.45},{"r":3,"c":3,"t":"d","x":85,"y":0.1},{"r":3,"c":3,"t":"d","x":87,"y":1.15},{"r":3,"c":3,"t":"d","x":89,"y":0.3},{"r":3,"c":3,"t":"d","x":91,"y":0.7},{"r":3,"c":3,"t":"d","x":93,"y":0.9},{"r":3,"c":3,"t":"d","x":95,"y":0.4},{"r":3,"c":3,"t":"d","x":97,"y":-0.55},{"r":3,"c":3,"t":"d","x":99,"y":0.45},{"r":3,"c":3,"t":"d","x":101,"y":-1.25},{"r":3,"c":3,"t":"d","x":103,"y":0.8},{"r":3,"c":3,"t":"d","x":105,"y":0.3},{"r":3,"c":3,"t":"d","x":107,"y":1.0},{"r":3,"c":3,"t":"d","x":109,"y":0.1},{"r":3,"c":3,"t":"d","x":111,"y":1.2},{"r":3,"c":3,"t":"d","x":113,"y":0.5},{"r":3,"c":3,"t":"d","x":115,"y":-0.95},{"r":3,"c":3,"t":"d","x":117,"y":0.45},{"r":3,"c":3,"t":"d","x":119,"y":0.85},{"r":3,"c":3,"t":"d","x":121,"y":0.2},{"r":3,"c":3,"t":"d","x":123,"y":0.9},{"r":3,"c":3,"t":"d","x":125,"y":-0.85},{"r":3,"c":3,"t":"d","x":127,"y":0.7},{"r":3,"c":3,"t":"d","x":129,"y":1.05},{"r":3,"c":3,"t":"d","x":131,"y":0.4},{"r":3,"c":3,"t":"d","x":133,"y":0.85},{"r":3,"c":3,"t":"d","x":135,"y":-0.95},{"r":3,"c":3,"t":"d","x":137,"y":0.55},{"r":3,"c":3,"t":"d","x":139,"y":0.6},{"r":3,"c":3,"t":"d","x":140,"y":0.3},
{"r":3,"c":3,"t":"e","x":1,"y":1.07},{"r":3,"c":3,"t":"e","x":3,"y":0.45},{"r":3,"c":3,"t":"e","x":5,"y":0.4},{"r":3,"c":3,"t":"e","x":8,"y":0.35},{"r":3,"c":3,"t":"e","x":11,"y":0.3},{"r":3,"c":3,"t":"e","x":14,"y":0.38},{"r":3,"c":3,"t":"e","x":17,"y":0.3},{"r":3,"c":3,"t":"e","x":20,"y":0.28},{"r":3,"c":3,"t":"e","x":23,"y":0.2},{"r":3,"c":3,"t":"e","x":26,"y":0.12},{"r":3,"c":3,"t":"e","x":29,"y":0.05},{"r":3,"c":3,"t":"e","x":31,"y":0.1},{"r":3,"c":3,"t":"e","x":33,"y":0.35},{"r":3,"c":3,"t":"e","x":36,"y":0.45},{"r":3,"c":3,"t":"e","x":39,"y":0.48},{"r":3,"c":3,"t":"e","x":42,"y":0.5},{"r":3,"c":3,"t":"e","x":45,"y":0.48},{"r":3,"c":3,"t":"e","x":48,"y":0.42},{"r":3,"c":3,"t":"e","x":51,"y":0.4},{"r":3,"c":3,"t":"e","x":54,"y":0.38},{"r":3,"c":3,"t":"e","x":57,"y":0.3},{"r":3,"c":3,"t":"e","x":60,"y":0.35},{"r":3,"c":3,"t":"e","x":63,"y":0.38},{"r":3,"c":3,"t":"e","x":66,"y":0.3},{"r":3,"c":3,"t":"e","x":69,"y":0.35},{"r":3,"c":3,"t":"e","x":72,"y":0.4},{"r":3,"c":3,"t":"e","x":75,"y":0.35},{"r":3,"c":3,"t":"e","x":78,"y":0.32},{"r":3,"c":3,"t":"e","x":81,"y":0.38},{"r":3,"c":3,"t":"e","x":84,"y":0.3},{"r":3,"c":3,"t":"e","x":87,"y":0.35},{"r":3,"c":3,"t":"e","x":90,"y":0.42},{"r":3,"c":3,"t":"e","x":93,"y":0.3},{"r":3,"c":3,"t":"e","x":96,"y":0.32},{"r":3,"c":3,"t":"e","x":99,"y":0.3},{"r":3,"c":3,"t":"e","x":102,"y":0.28},{"r":3,"c":3,"t":"e","x":105,"y":0.4},{"r":3,"c":3,"t":"e","x":108,"y":0.55},{"r":3,"c":3,"t":"e","x":111,"y":0.7},{"r":3,"c":3,"t":"e","x":113,"y":0.75},{"r":3,"c":3,"t":"e","x":115,"y":0.72},{"r":3,"c":3,"t":"e","x":117,"y":0.6},{"r":3,"c":3,"t":"e","x":120,"y":0.4},{"r":3,"c":3,"t":"e","x":123,"y":0.25},{"r":3,"c":3,"t":"e","x":126,"y":0.22},{"r":3,"c":3,"t":"e","x":129,"y":0.28},{"r":3,"c":3,"t":"e","x":132,"y":0.35},{"r":3,"c":3,"t":"e","x":135,"y":0.4},{"r":3,"c":3,"t":"e","x":138,"y":0.35},{"r":3,"c":3,"t":"e","x":140,"y":0.32}
          ]},
          "facet": {
            "row": {"field": "r", "type": "ordinal", "header": null},
            "column": {"field": "c", "type": "ordinal", "header": null}
          },
          "spacing": {"row": 4, "column": 4},
          "spec": {
            "width": 251,
            "height": 143,
            "view": {"fill": "#EBEBEB", "stroke": null},
            "mark": {"type": "line", "strokeWidth": 1.1, "clip": true},
            "encoding": {
              "x": {
                "field": "x", "type": "quantitative",
                "scale": {"domain": [-6, 147], "nice": false, "zero": false},
                "axis": {
                  "values": [0, 25, 50, 75, 100, 125],
                  "format": "d",
                  "labelExpr": "datum.value % 50 === 0 ? datum.label : ''",
                  "gridWidth": {"condition": {"test": "datum.value % 50 !== 0", "value": 0.55}, "value": 1.1},
                  "tickOpacity": {"condition": {"test": "datum.value % 50 !== 0", "value": 0}, "value": 1}
                }
              },
              "y": {
                "field": "y", "type": "quantitative",
                "scale": {"domain": [-1.375, 1.375], "nice": false, "zero": false},
                "axis": {
                  "values": [-1.25, -1, -0.75, -0.5, -0.25, 0, 0.25, 0.5, 0.75, 1, 1.25],
                  "labelExpr": "abs(datum.value) % 0.5 === 0 ? format(datum.value, '.1f') : ''",
                  "gridWidth": {"condition": {"test": "abs(datum.value) % 0.5 !== 0", "value": 0.55}, "value": 1.1},
                  "tickOpacity": {"condition": {"test": "abs(datum.value) % 0.5 !== 0", "value": 0}, "value": 1},
                  "minExtent": 35,
                  "maxExtent": 35
                }
              },
              "color": {
                "field": "t", "type": "nominal",
                "scale": {"domain": ["a", "b", "c", "d", "e"], "range": ["#F8766D", "#B79F00", "#00BA38", "#00BFC4", "#619CFF"]},
                "legend": {
                  "title": "type",
                  "labelExpr": "datum.label === 'a' ? 'cumulative data' : datum.label === 'b' ? 'online updating CEE' : datum.label === 'c' ? 'online updating CUEE' : datum.label === 'd' ? 'online updating window, width = 1' : 'online updating window, width = 10'"
                }
              },
              "strokeDash": {
                "field": "t", "type": "nominal",
                "scale": {"domain": ["a", "b", "c", "d", "e"], "range": [[6, 3], [1, 0], [1, 2, 4, 2], [4, 4], [2, 2, 6, 2]]},
                "legend": {
                  "title": "type",
                  "labelExpr": "datum.label === 'a' ? 'cumulative data' : datum.label === 'b' ? 'online updating CEE' : datum.label === 'c' ? 'online updating CUEE' : datum.label === 'd' ? 'online updating window, width = 1' : 'online updating window, width = 10'"
                }
              }
            }
          }
        },
        {
          "spacing": 4,
          "vconcat": [
            {"data": {"values": [{"lab": "β̂Age"}]}, "width": 23, "height": 143, "view": {"fill": "#D9D9D9", "stroke": null},
             "mark": {"type": "text", "fontSize": 8.8, "color": "#1A1A1A", "angle": 90}, "encoding": {"text": {"field": "lab"}}},
            {"data": {"values": [{"lab": "β̂Female"}]}, "width": 23, "height": 143, "view": {"fill": "#D9D9D9", "stroke": null},
             "mark": {"type": "text", "fontSize": 8.8, "color": "#1A1A1A", "angle": 90}, "encoding": {"text": {"field": "lab"}}},
            {"data": {"values": [{"lab": "β̂Black"}]}, "width": 23, "height": 143, "view": {"fill": "#D9D9D9", "stroke": null},
             "mark": {"type": "text", "fontSize": 8.8, "color": "#1A1A1A", "angle": 90}, "encoding": {"text": {"field": "lab"}}}
          ]
        }
      ]
    }
  ]
}
